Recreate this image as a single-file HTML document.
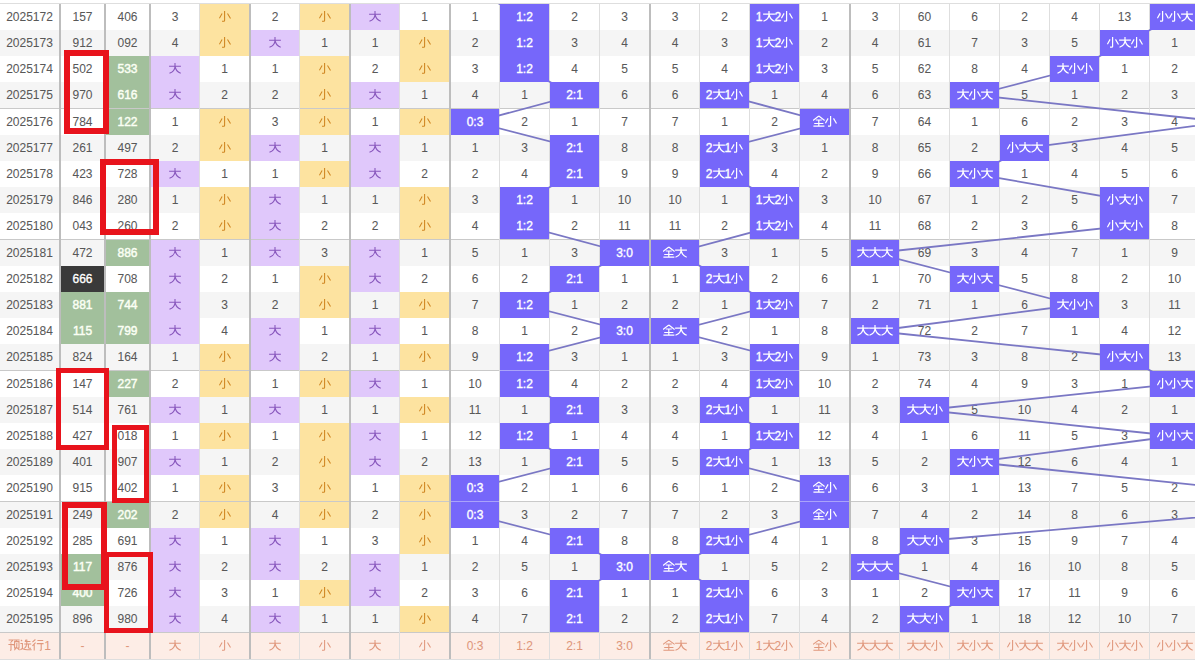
<!DOCTYPE html>
<html><head><meta charset="utf-8"><style>
html,body{margin:0;padding:0;background:#fff;}
body{width:1195px;height:661px;overflow:hidden;position:relative;font-family:"Liberation Sans",sans-serif;font-size:12px;color:#585858;}
.a{position:absolute;}
.c{position:absolute;display:flex;align-items:center;justify-content:center;height:26px;white-space:nowrap;}
.c b{font-weight:normal;display:block;line-height:12px;-webkit-text-stroke:0.05px currentColor;}
.g{width:12px;height:12px;display:block;margin-top:-2px;fill:none;stroke:currentColor;stroke-width:1.05;stroke-linecap:butt;stroke-linejoin:miter;}
.hi{background:#7667fa;color:#fff;}
.hi b,.dk b{-webkit-text-stroke:0.35px currentColor;}
.gr b{-webkit-text-stroke:0.45px currentColor;}
.hi .g{stroke-width:1.2;}
.y{background:#fde3a0;color:#cf8520;}
.p{background:#e0c8fb;color:#8756bc;}
.gr{background:#a2c09c;color:#fbfff4;}
.dk{background:#3a3a3a;color:#fff;}
.ft{color:#e0977c;}
.vd{position:absolute;width:2px;background:#bdbdbd;}
.vl{position:absolute;width:1px;background:#dedede;}
.rb{position:absolute;box-sizing:border-box;border:6px solid #e8131c;}
</style></head><body>

<div class="a" style="left:0;top:3px;width:1195px;height:1px;background:#dedede"></div>
<div class="a" style="left:0;top:30px;width:1195px;height:26px;background:#f5f5f5"></div>
<div class="a" style="left:0;top:82px;width:1195px;height:26px;background:#f5f5f5"></div>
<div class="a" style="left:0;top:135px;width:1195px;height:26px;background:#f5f5f5"></div>
<div class="a" style="left:0;top:187px;width:1195px;height:26px;background:#f5f5f5"></div>
<div class="a" style="left:0;top:240px;width:1195px;height:26px;background:#f5f5f5"></div>
<div class="a" style="left:0;top:292px;width:1195px;height:26px;background:#f5f5f5"></div>
<div class="a" style="left:0;top:344px;width:1195px;height:26px;background:#f5f5f5"></div>
<div class="a" style="left:0;top:397px;width:1195px;height:26px;background:#f5f5f5"></div>
<div class="a" style="left:0;top:449px;width:1195px;height:26px;background:#f5f5f5"></div>
<div class="a" style="left:0;top:502px;width:1195px;height:26px;background:#f5f5f5"></div>
<div class="a" style="left:0;top:554px;width:1195px;height:26px;background:#f5f5f5"></div>
<div class="a" style="left:0;top:606px;width:1195px;height:26px;background:#f5f5f5"></div>
<div class="a" style="left:0;top:108px;width:1195px;height:1px;background:#c9c9c9"></div>
<div class="a" style="left:0;top:239px;width:1195px;height:1px;background:#c9c9c9"></div>
<div class="a" style="left:0;top:370px;width:1195px;height:1px;background:#c9c9c9"></div>
<div class="a" style="left:0;top:501px;width:1195px;height:1px;background:#c9c9c9"></div>
<div class="a" style="left:0;top:632px;width:1195px;height:1px;background:#c9c9c9"></div>
<div class="a" style="left:0;top:633px;width:1195px;height:26px;background:#fdede6"></div>
<div class="a" style="left:0;top:659px;width:1195px;height:1px;background:#dedede"></div>
<div class="c " style="left:0px;top:4px;width:59px;"><b>2025172</b></div>
<div class="c " style="left:61px;top:4px;width:43px;"><b>157</b></div>
<div class="c " style="left:106px;top:4px;width:43px;"><b>406</b></div>
<div class="c " style="left:151px;top:4px;width:48px;"><b>3</b></div>
<div class="c y" style="left:200px;top:4px;width:49px;"><svg class="g" viewBox="0 0 12 12"><path d="M5.6 1V10.5Q5.6 11.2 4.8 11.2H3M3.1 3.4L0.4 8.3M8.5 3.4L11.5 8.5"/></svg></div>
<div class="c " style="left:251px;top:4px;width:48px;"><b>2</b></div>
<div class="c y" style="left:300px;top:4px;width:49px;"><svg class="g" viewBox="0 0 12 12"><path d="M5.6 1V10.5Q5.6 11.2 4.8 11.2H3M3.1 3.4L0.4 8.3M8.5 3.4L11.5 8.5"/></svg></div>
<div class="c p" style="left:351px;top:4px;width:48px;"><svg class="g" viewBox="0 0 12 12"><path d="M0.1 4.2H11.9M6 0.9V4.2C6 7.4 4 9.9 0.5 11.3M6.2 5C7 8.1 8.8 10.2 11.7 11.3"/></svg></div>
<div class="c " style="left:400px;top:4px;width:49px;"><b>1</b></div>
<div class="c " style="left:0px;top:30px;width:59px;"><b>2025173</b></div>
<div class="c " style="left:61px;top:30px;width:43px;"><b>912</b></div>
<div class="c " style="left:106px;top:30px;width:43px;"><b>092</b></div>
<div class="c " style="left:151px;top:30px;width:48px;"><b>4</b></div>
<div class="c y" style="left:200px;top:30px;width:49px;"><svg class="g" viewBox="0 0 12 12"><path d="M5.6 1V10.5Q5.6 11.2 4.8 11.2H3M3.1 3.4L0.4 8.3M8.5 3.4L11.5 8.5"/></svg></div>
<div class="c p" style="left:251px;top:30px;width:48px;"><svg class="g" viewBox="0 0 12 12"><path d="M0.1 4.2H11.9M6 0.9V4.2C6 7.4 4 9.9 0.5 11.3M6.2 5C7 8.1 8.8 10.2 11.7 11.3"/></svg></div>
<div class="c " style="left:300px;top:30px;width:49px;"><b>1</b></div>
<div class="c " style="left:351px;top:30px;width:48px;"><b>1</b></div>
<div class="c y" style="left:400px;top:30px;width:49px;"><svg class="g" viewBox="0 0 12 12"><path d="M5.6 1V10.5Q5.6 11.2 4.8 11.2H3M3.1 3.4L0.4 8.3M8.5 3.4L11.5 8.5"/></svg></div>
<div class="c " style="left:0px;top:56px;width:59px;"><b>2025174</b></div>
<div class="c " style="left:61px;top:56px;width:43px;"><b>502</b></div>
<div class="c gr" style="left:106px;top:56px;width:43px;"><b>533</b></div>
<div class="c p" style="left:151px;top:56px;width:48px;"><svg class="g" viewBox="0 0 12 12"><path d="M0.1 4.2H11.9M6 0.9V4.2C6 7.4 4 9.9 0.5 11.3M6.2 5C7 8.1 8.8 10.2 11.7 11.3"/></svg></div>
<div class="c " style="left:200px;top:56px;width:49px;"><b>1</b></div>
<div class="c " style="left:251px;top:56px;width:48px;"><b>1</b></div>
<div class="c y" style="left:300px;top:56px;width:49px;"><svg class="g" viewBox="0 0 12 12"><path d="M5.6 1V10.5Q5.6 11.2 4.8 11.2H3M3.1 3.4L0.4 8.3M8.5 3.4L11.5 8.5"/></svg></div>
<div class="c " style="left:351px;top:56px;width:48px;"><b>2</b></div>
<div class="c y" style="left:400px;top:56px;width:49px;"><svg class="g" viewBox="0 0 12 12"><path d="M5.6 1V10.5Q5.6 11.2 4.8 11.2H3M3.1 3.4L0.4 8.3M8.5 3.4L11.5 8.5"/></svg></div>
<div class="c " style="left:0px;top:82px;width:59px;"><b>2025175</b></div>
<div class="c " style="left:61px;top:82px;width:43px;"><b>970</b></div>
<div class="c gr" style="left:106px;top:82px;width:43px;"><b>616</b></div>
<div class="c p" style="left:151px;top:82px;width:48px;"><svg class="g" viewBox="0 0 12 12"><path d="M0.1 4.2H11.9M6 0.9V4.2C6 7.4 4 9.9 0.5 11.3M6.2 5C7 8.1 8.8 10.2 11.7 11.3"/></svg></div>
<div class="c " style="left:200px;top:82px;width:49px;"><b>2</b></div>
<div class="c " style="left:251px;top:82px;width:48px;"><b>2</b></div>
<div class="c y" style="left:300px;top:82px;width:49px;"><svg class="g" viewBox="0 0 12 12"><path d="M5.6 1V10.5Q5.6 11.2 4.8 11.2H3M3.1 3.4L0.4 8.3M8.5 3.4L11.5 8.5"/></svg></div>
<div class="c p" style="left:351px;top:82px;width:48px;"><svg class="g" viewBox="0 0 12 12"><path d="M0.1 4.2H11.9M6 0.9V4.2C6 7.4 4 9.9 0.5 11.3M6.2 5C7 8.1 8.8 10.2 11.7 11.3"/></svg></div>
<div class="c " style="left:400px;top:82px;width:49px;"><b>1</b></div>
<div class="c " style="left:0px;top:109px;width:59px;"><b>2025176</b></div>
<div class="c " style="left:61px;top:109px;width:43px;"><b>784</b></div>
<div class="c gr" style="left:106px;top:109px;width:43px;"><b>122</b></div>
<div class="c " style="left:151px;top:109px;width:48px;"><b>1</b></div>
<div class="c y" style="left:200px;top:109px;width:49px;"><svg class="g" viewBox="0 0 12 12"><path d="M5.6 1V10.5Q5.6 11.2 4.8 11.2H3M3.1 3.4L0.4 8.3M8.5 3.4L11.5 8.5"/></svg></div>
<div class="c " style="left:251px;top:109px;width:48px;"><b>3</b></div>
<div class="c y" style="left:300px;top:109px;width:49px;"><svg class="g" viewBox="0 0 12 12"><path d="M5.6 1V10.5Q5.6 11.2 4.8 11.2H3M3.1 3.4L0.4 8.3M8.5 3.4L11.5 8.5"/></svg></div>
<div class="c " style="left:351px;top:109px;width:48px;"><b>1</b></div>
<div class="c y" style="left:400px;top:109px;width:49px;"><svg class="g" viewBox="0 0 12 12"><path d="M5.6 1V10.5Q5.6 11.2 4.8 11.2H3M3.1 3.4L0.4 8.3M8.5 3.4L11.5 8.5"/></svg></div>
<div class="c " style="left:0px;top:135px;width:59px;"><b>2025177</b></div>
<div class="c " style="left:61px;top:135px;width:43px;"><b>261</b></div>
<div class="c " style="left:106px;top:135px;width:43px;"><b>497</b></div>
<div class="c " style="left:151px;top:135px;width:48px;"><b>2</b></div>
<div class="c y" style="left:200px;top:135px;width:49px;"><svg class="g" viewBox="0 0 12 12"><path d="M5.6 1V10.5Q5.6 11.2 4.8 11.2H3M3.1 3.4L0.4 8.3M8.5 3.4L11.5 8.5"/></svg></div>
<div class="c p" style="left:251px;top:135px;width:48px;"><svg class="g" viewBox="0 0 12 12"><path d="M0.1 4.2H11.9M6 0.9V4.2C6 7.4 4 9.9 0.5 11.3M6.2 5C7 8.1 8.8 10.2 11.7 11.3"/></svg></div>
<div class="c " style="left:300px;top:135px;width:49px;"><b>1</b></div>
<div class="c p" style="left:351px;top:135px;width:48px;"><svg class="g" viewBox="0 0 12 12"><path d="M0.1 4.2H11.9M6 0.9V4.2C6 7.4 4 9.9 0.5 11.3M6.2 5C7 8.1 8.8 10.2 11.7 11.3"/></svg></div>
<div class="c " style="left:400px;top:135px;width:49px;"><b>1</b></div>
<div class="c " style="left:0px;top:161px;width:59px;"><b>2025178</b></div>
<div class="c " style="left:61px;top:161px;width:43px;"><b>423</b></div>
<div class="c " style="left:106px;top:161px;width:43px;"><b>728</b></div>
<div class="c p" style="left:151px;top:161px;width:48px;"><svg class="g" viewBox="0 0 12 12"><path d="M0.1 4.2H11.9M6 0.9V4.2C6 7.4 4 9.9 0.5 11.3M6.2 5C7 8.1 8.8 10.2 11.7 11.3"/></svg></div>
<div class="c " style="left:200px;top:161px;width:49px;"><b>1</b></div>
<div class="c " style="left:251px;top:161px;width:48px;"><b>1</b></div>
<div class="c y" style="left:300px;top:161px;width:49px;"><svg class="g" viewBox="0 0 12 12"><path d="M5.6 1V10.5Q5.6 11.2 4.8 11.2H3M3.1 3.4L0.4 8.3M8.5 3.4L11.5 8.5"/></svg></div>
<div class="c p" style="left:351px;top:161px;width:48px;"><svg class="g" viewBox="0 0 12 12"><path d="M0.1 4.2H11.9M6 0.9V4.2C6 7.4 4 9.9 0.5 11.3M6.2 5C7 8.1 8.8 10.2 11.7 11.3"/></svg></div>
<div class="c " style="left:400px;top:161px;width:49px;"><b>2</b></div>
<div class="c " style="left:0px;top:187px;width:59px;"><b>2025179</b></div>
<div class="c " style="left:61px;top:187px;width:43px;"><b>846</b></div>
<div class="c " style="left:106px;top:187px;width:43px;"><b>280</b></div>
<div class="c " style="left:151px;top:187px;width:48px;"><b>1</b></div>
<div class="c y" style="left:200px;top:187px;width:49px;"><svg class="g" viewBox="0 0 12 12"><path d="M5.6 1V10.5Q5.6 11.2 4.8 11.2H3M3.1 3.4L0.4 8.3M8.5 3.4L11.5 8.5"/></svg></div>
<div class="c p" style="left:251px;top:187px;width:48px;"><svg class="g" viewBox="0 0 12 12"><path d="M0.1 4.2H11.9M6 0.9V4.2C6 7.4 4 9.9 0.5 11.3M6.2 5C7 8.1 8.8 10.2 11.7 11.3"/></svg></div>
<div class="c " style="left:300px;top:187px;width:49px;"><b>1</b></div>
<div class="c " style="left:351px;top:187px;width:48px;"><b>1</b></div>
<div class="c y" style="left:400px;top:187px;width:49px;"><svg class="g" viewBox="0 0 12 12"><path d="M5.6 1V10.5Q5.6 11.2 4.8 11.2H3M3.1 3.4L0.4 8.3M8.5 3.4L11.5 8.5"/></svg></div>
<div class="c " style="left:0px;top:213px;width:59px;"><b>2025180</b></div>
<div class="c " style="left:61px;top:213px;width:43px;"><b>043</b></div>
<div class="c " style="left:106px;top:213px;width:43px;"><b>260</b></div>
<div class="c " style="left:151px;top:213px;width:48px;"><b>2</b></div>
<div class="c y" style="left:200px;top:213px;width:49px;"><svg class="g" viewBox="0 0 12 12"><path d="M5.6 1V10.5Q5.6 11.2 4.8 11.2H3M3.1 3.4L0.4 8.3M8.5 3.4L11.5 8.5"/></svg></div>
<div class="c p" style="left:251px;top:213px;width:48px;"><svg class="g" viewBox="0 0 12 12"><path d="M0.1 4.2H11.9M6 0.9V4.2C6 7.4 4 9.9 0.5 11.3M6.2 5C7 8.1 8.8 10.2 11.7 11.3"/></svg></div>
<div class="c " style="left:300px;top:213px;width:49px;"><b>2</b></div>
<div class="c " style="left:351px;top:213px;width:48px;"><b>2</b></div>
<div class="c y" style="left:400px;top:213px;width:49px;"><svg class="g" viewBox="0 0 12 12"><path d="M5.6 1V10.5Q5.6 11.2 4.8 11.2H3M3.1 3.4L0.4 8.3M8.5 3.4L11.5 8.5"/></svg></div>
<div class="c " style="left:0px;top:240px;width:59px;"><b>2025181</b></div>
<div class="c " style="left:61px;top:240px;width:43px;"><b>472</b></div>
<div class="c gr" style="left:106px;top:240px;width:43px;"><b>886</b></div>
<div class="c p" style="left:151px;top:240px;width:48px;"><svg class="g" viewBox="0 0 12 12"><path d="M0.1 4.2H11.9M6 0.9V4.2C6 7.4 4 9.9 0.5 11.3M6.2 5C7 8.1 8.8 10.2 11.7 11.3"/></svg></div>
<div class="c " style="left:200px;top:240px;width:49px;"><b>1</b></div>
<div class="c p" style="left:251px;top:240px;width:48px;"><svg class="g" viewBox="0 0 12 12"><path d="M0.1 4.2H11.9M6 0.9V4.2C6 7.4 4 9.9 0.5 11.3M6.2 5C7 8.1 8.8 10.2 11.7 11.3"/></svg></div>
<div class="c " style="left:300px;top:240px;width:49px;"><b>3</b></div>
<div class="c p" style="left:351px;top:240px;width:48px;"><svg class="g" viewBox="0 0 12 12"><path d="M0.1 4.2H11.9M6 0.9V4.2C6 7.4 4 9.9 0.5 11.3M6.2 5C7 8.1 8.8 10.2 11.7 11.3"/></svg></div>
<div class="c " style="left:400px;top:240px;width:49px;"><b>1</b></div>
<div class="c " style="left:0px;top:266px;width:59px;"><b>2025182</b></div>
<div class="c dk" style="left:61px;top:266px;width:43px;"><b>666</b></div>
<div class="c " style="left:106px;top:266px;width:43px;"><b>708</b></div>
<div class="c p" style="left:151px;top:266px;width:48px;"><svg class="g" viewBox="0 0 12 12"><path d="M0.1 4.2H11.9M6 0.9V4.2C6 7.4 4 9.9 0.5 11.3M6.2 5C7 8.1 8.8 10.2 11.7 11.3"/></svg></div>
<div class="c " style="left:200px;top:266px;width:49px;"><b>2</b></div>
<div class="c " style="left:251px;top:266px;width:48px;"><b>1</b></div>
<div class="c y" style="left:300px;top:266px;width:49px;"><svg class="g" viewBox="0 0 12 12"><path d="M5.6 1V10.5Q5.6 11.2 4.8 11.2H3M3.1 3.4L0.4 8.3M8.5 3.4L11.5 8.5"/></svg></div>
<div class="c p" style="left:351px;top:266px;width:48px;"><svg class="g" viewBox="0 0 12 12"><path d="M0.1 4.2H11.9M6 0.9V4.2C6 7.4 4 9.9 0.5 11.3M6.2 5C7 8.1 8.8 10.2 11.7 11.3"/></svg></div>
<div class="c " style="left:400px;top:266px;width:49px;"><b>2</b></div>
<div class="c " style="left:0px;top:292px;width:59px;"><b>2025183</b></div>
<div class="c gr" style="left:61px;top:292px;width:43px;"><b>881</b></div>
<div class="c gr" style="left:106px;top:292px;width:43px;"><b>744</b></div>
<div class="c p" style="left:151px;top:292px;width:48px;"><svg class="g" viewBox="0 0 12 12"><path d="M0.1 4.2H11.9M6 0.9V4.2C6 7.4 4 9.9 0.5 11.3M6.2 5C7 8.1 8.8 10.2 11.7 11.3"/></svg></div>
<div class="c " style="left:200px;top:292px;width:49px;"><b>3</b></div>
<div class="c " style="left:251px;top:292px;width:48px;"><b>2</b></div>
<div class="c y" style="left:300px;top:292px;width:49px;"><svg class="g" viewBox="0 0 12 12"><path d="M5.6 1V10.5Q5.6 11.2 4.8 11.2H3M3.1 3.4L0.4 8.3M8.5 3.4L11.5 8.5"/></svg></div>
<div class="c " style="left:351px;top:292px;width:48px;"><b>1</b></div>
<div class="c y" style="left:400px;top:292px;width:49px;"><svg class="g" viewBox="0 0 12 12"><path d="M5.6 1V10.5Q5.6 11.2 4.8 11.2H3M3.1 3.4L0.4 8.3M8.5 3.4L11.5 8.5"/></svg></div>
<div class="c " style="left:0px;top:318px;width:59px;"><b>2025184</b></div>
<div class="c gr" style="left:61px;top:318px;width:43px;"><b>115</b></div>
<div class="c gr" style="left:106px;top:318px;width:43px;"><b>799</b></div>
<div class="c p" style="left:151px;top:318px;width:48px;"><svg class="g" viewBox="0 0 12 12"><path d="M0.1 4.2H11.9M6 0.9V4.2C6 7.4 4 9.9 0.5 11.3M6.2 5C7 8.1 8.8 10.2 11.7 11.3"/></svg></div>
<div class="c " style="left:200px;top:318px;width:49px;"><b>4</b></div>
<div class="c p" style="left:251px;top:318px;width:48px;"><svg class="g" viewBox="0 0 12 12"><path d="M0.1 4.2H11.9M6 0.9V4.2C6 7.4 4 9.9 0.5 11.3M6.2 5C7 8.1 8.8 10.2 11.7 11.3"/></svg></div>
<div class="c " style="left:300px;top:318px;width:49px;"><b>1</b></div>
<div class="c p" style="left:351px;top:318px;width:48px;"><svg class="g" viewBox="0 0 12 12"><path d="M0.1 4.2H11.9M6 0.9V4.2C6 7.4 4 9.9 0.5 11.3M6.2 5C7 8.1 8.8 10.2 11.7 11.3"/></svg></div>
<div class="c " style="left:400px;top:318px;width:49px;"><b>1</b></div>
<div class="c " style="left:0px;top:344px;width:59px;"><b>2025185</b></div>
<div class="c " style="left:61px;top:344px;width:43px;"><b>824</b></div>
<div class="c " style="left:106px;top:344px;width:43px;"><b>164</b></div>
<div class="c " style="left:151px;top:344px;width:48px;"><b>1</b></div>
<div class="c y" style="left:200px;top:344px;width:49px;"><svg class="g" viewBox="0 0 12 12"><path d="M5.6 1V10.5Q5.6 11.2 4.8 11.2H3M3.1 3.4L0.4 8.3M8.5 3.4L11.5 8.5"/></svg></div>
<div class="c p" style="left:251px;top:344px;width:48px;"><svg class="g" viewBox="0 0 12 12"><path d="M0.1 4.2H11.9M6 0.9V4.2C6 7.4 4 9.9 0.5 11.3M6.2 5C7 8.1 8.8 10.2 11.7 11.3"/></svg></div>
<div class="c " style="left:300px;top:344px;width:49px;"><b>2</b></div>
<div class="c " style="left:351px;top:344px;width:48px;"><b>1</b></div>
<div class="c y" style="left:400px;top:344px;width:49px;"><svg class="g" viewBox="0 0 12 12"><path d="M5.6 1V10.5Q5.6 11.2 4.8 11.2H3M3.1 3.4L0.4 8.3M8.5 3.4L11.5 8.5"/></svg></div>
<div class="c " style="left:0px;top:371px;width:59px;"><b>2025186</b></div>
<div class="c " style="left:61px;top:371px;width:43px;"><b>147</b></div>
<div class="c gr" style="left:106px;top:371px;width:43px;"><b>227</b></div>
<div class="c " style="left:151px;top:371px;width:48px;"><b>2</b></div>
<div class="c y" style="left:200px;top:371px;width:49px;"><svg class="g" viewBox="0 0 12 12"><path d="M5.6 1V10.5Q5.6 11.2 4.8 11.2H3M3.1 3.4L0.4 8.3M8.5 3.4L11.5 8.5"/></svg></div>
<div class="c " style="left:251px;top:371px;width:48px;"><b>1</b></div>
<div class="c y" style="left:300px;top:371px;width:49px;"><svg class="g" viewBox="0 0 12 12"><path d="M5.6 1V10.5Q5.6 11.2 4.8 11.2H3M3.1 3.4L0.4 8.3M8.5 3.4L11.5 8.5"/></svg></div>
<div class="c p" style="left:351px;top:371px;width:48px;"><svg class="g" viewBox="0 0 12 12"><path d="M0.1 4.2H11.9M6 0.9V4.2C6 7.4 4 9.9 0.5 11.3M6.2 5C7 8.1 8.8 10.2 11.7 11.3"/></svg></div>
<div class="c " style="left:400px;top:371px;width:49px;"><b>1</b></div>
<div class="c " style="left:0px;top:397px;width:59px;"><b>2025187</b></div>
<div class="c " style="left:61px;top:397px;width:43px;"><b>514</b></div>
<div class="c " style="left:106px;top:397px;width:43px;"><b>761</b></div>
<div class="c p" style="left:151px;top:397px;width:48px;"><svg class="g" viewBox="0 0 12 12"><path d="M0.1 4.2H11.9M6 0.9V4.2C6 7.4 4 9.9 0.5 11.3M6.2 5C7 8.1 8.8 10.2 11.7 11.3"/></svg></div>
<div class="c " style="left:200px;top:397px;width:49px;"><b>1</b></div>
<div class="c p" style="left:251px;top:397px;width:48px;"><svg class="g" viewBox="0 0 12 12"><path d="M0.1 4.2H11.9M6 0.9V4.2C6 7.4 4 9.9 0.5 11.3M6.2 5C7 8.1 8.8 10.2 11.7 11.3"/></svg></div>
<div class="c " style="left:300px;top:397px;width:49px;"><b>1</b></div>
<div class="c " style="left:351px;top:397px;width:48px;"><b>1</b></div>
<div class="c y" style="left:400px;top:397px;width:49px;"><svg class="g" viewBox="0 0 12 12"><path d="M5.6 1V10.5Q5.6 11.2 4.8 11.2H3M3.1 3.4L0.4 8.3M8.5 3.4L11.5 8.5"/></svg></div>
<div class="c " style="left:0px;top:423px;width:59px;"><b>2025188</b></div>
<div class="c " style="left:61px;top:423px;width:43px;"><b>427</b></div>
<div class="c " style="left:106px;top:423px;width:43px;"><b>018</b></div>
<div class="c " style="left:151px;top:423px;width:48px;"><b>1</b></div>
<div class="c y" style="left:200px;top:423px;width:49px;"><svg class="g" viewBox="0 0 12 12"><path d="M5.6 1V10.5Q5.6 11.2 4.8 11.2H3M3.1 3.4L0.4 8.3M8.5 3.4L11.5 8.5"/></svg></div>
<div class="c " style="left:251px;top:423px;width:48px;"><b>1</b></div>
<div class="c y" style="left:300px;top:423px;width:49px;"><svg class="g" viewBox="0 0 12 12"><path d="M5.6 1V10.5Q5.6 11.2 4.8 11.2H3M3.1 3.4L0.4 8.3M8.5 3.4L11.5 8.5"/></svg></div>
<div class="c p" style="left:351px;top:423px;width:48px;"><svg class="g" viewBox="0 0 12 12"><path d="M0.1 4.2H11.9M6 0.9V4.2C6 7.4 4 9.9 0.5 11.3M6.2 5C7 8.1 8.8 10.2 11.7 11.3"/></svg></div>
<div class="c " style="left:400px;top:423px;width:49px;"><b>1</b></div>
<div class="c " style="left:0px;top:449px;width:59px;"><b>2025189</b></div>
<div class="c " style="left:61px;top:449px;width:43px;"><b>401</b></div>
<div class="c " style="left:106px;top:449px;width:43px;"><b>907</b></div>
<div class="c p" style="left:151px;top:449px;width:48px;"><svg class="g" viewBox="0 0 12 12"><path d="M0.1 4.2H11.9M6 0.9V4.2C6 7.4 4 9.9 0.5 11.3M6.2 5C7 8.1 8.8 10.2 11.7 11.3"/></svg></div>
<div class="c " style="left:200px;top:449px;width:49px;"><b>1</b></div>
<div class="c " style="left:251px;top:449px;width:48px;"><b>2</b></div>
<div class="c y" style="left:300px;top:449px;width:49px;"><svg class="g" viewBox="0 0 12 12"><path d="M5.6 1V10.5Q5.6 11.2 4.8 11.2H3M3.1 3.4L0.4 8.3M8.5 3.4L11.5 8.5"/></svg></div>
<div class="c p" style="left:351px;top:449px;width:48px;"><svg class="g" viewBox="0 0 12 12"><path d="M0.1 4.2H11.9M6 0.9V4.2C6 7.4 4 9.9 0.5 11.3M6.2 5C7 8.1 8.8 10.2 11.7 11.3"/></svg></div>
<div class="c " style="left:400px;top:449px;width:49px;"><b>2</b></div>
<div class="c " style="left:0px;top:475px;width:59px;"><b>2025190</b></div>
<div class="c " style="left:61px;top:475px;width:43px;"><b>915</b></div>
<div class="c " style="left:106px;top:475px;width:43px;"><b>402</b></div>
<div class="c " style="left:151px;top:475px;width:48px;"><b>1</b></div>
<div class="c y" style="left:200px;top:475px;width:49px;"><svg class="g" viewBox="0 0 12 12"><path d="M5.6 1V10.5Q5.6 11.2 4.8 11.2H3M3.1 3.4L0.4 8.3M8.5 3.4L11.5 8.5"/></svg></div>
<div class="c " style="left:251px;top:475px;width:48px;"><b>3</b></div>
<div class="c y" style="left:300px;top:475px;width:49px;"><svg class="g" viewBox="0 0 12 12"><path d="M5.6 1V10.5Q5.6 11.2 4.8 11.2H3M3.1 3.4L0.4 8.3M8.5 3.4L11.5 8.5"/></svg></div>
<div class="c " style="left:351px;top:475px;width:48px;"><b>1</b></div>
<div class="c y" style="left:400px;top:475px;width:49px;"><svg class="g" viewBox="0 0 12 12"><path d="M5.6 1V10.5Q5.6 11.2 4.8 11.2H3M3.1 3.4L0.4 8.3M8.5 3.4L11.5 8.5"/></svg></div>
<div class="c " style="left:0px;top:502px;width:59px;"><b>2025191</b></div>
<div class="c " style="left:61px;top:502px;width:43px;"><b>249</b></div>
<div class="c gr" style="left:106px;top:502px;width:43px;"><b>202</b></div>
<div class="c " style="left:151px;top:502px;width:48px;"><b>2</b></div>
<div class="c y" style="left:200px;top:502px;width:49px;"><svg class="g" viewBox="0 0 12 12"><path d="M5.6 1V10.5Q5.6 11.2 4.8 11.2H3M3.1 3.4L0.4 8.3M8.5 3.4L11.5 8.5"/></svg></div>
<div class="c " style="left:251px;top:502px;width:48px;"><b>4</b></div>
<div class="c y" style="left:300px;top:502px;width:49px;"><svg class="g" viewBox="0 0 12 12"><path d="M5.6 1V10.5Q5.6 11.2 4.8 11.2H3M3.1 3.4L0.4 8.3M8.5 3.4L11.5 8.5"/></svg></div>
<div class="c " style="left:351px;top:502px;width:48px;"><b>2</b></div>
<div class="c y" style="left:400px;top:502px;width:49px;"><svg class="g" viewBox="0 0 12 12"><path d="M5.6 1V10.5Q5.6 11.2 4.8 11.2H3M3.1 3.4L0.4 8.3M8.5 3.4L11.5 8.5"/></svg></div>
<div class="c " style="left:0px;top:528px;width:59px;"><b>2025192</b></div>
<div class="c " style="left:61px;top:528px;width:43px;"><b>285</b></div>
<div class="c " style="left:106px;top:528px;width:43px;"><b>691</b></div>
<div class="c p" style="left:151px;top:528px;width:48px;"><svg class="g" viewBox="0 0 12 12"><path d="M0.1 4.2H11.9M6 0.9V4.2C6 7.4 4 9.9 0.5 11.3M6.2 5C7 8.1 8.8 10.2 11.7 11.3"/></svg></div>
<div class="c " style="left:200px;top:528px;width:49px;"><b>1</b></div>
<div class="c p" style="left:251px;top:528px;width:48px;"><svg class="g" viewBox="0 0 12 12"><path d="M0.1 4.2H11.9M6 0.9V4.2C6 7.4 4 9.9 0.5 11.3M6.2 5C7 8.1 8.8 10.2 11.7 11.3"/></svg></div>
<div class="c " style="left:300px;top:528px;width:49px;"><b>1</b></div>
<div class="c " style="left:351px;top:528px;width:48px;"><b>3</b></div>
<div class="c y" style="left:400px;top:528px;width:49px;"><svg class="g" viewBox="0 0 12 12"><path d="M5.6 1V10.5Q5.6 11.2 4.8 11.2H3M3.1 3.4L0.4 8.3M8.5 3.4L11.5 8.5"/></svg></div>
<div class="c " style="left:0px;top:554px;width:59px;"><b>2025193</b></div>
<div class="c gr" style="left:61px;top:554px;width:43px;"><b>117</b></div>
<div class="c " style="left:106px;top:554px;width:43px;"><b>876</b></div>
<div class="c p" style="left:151px;top:554px;width:48px;"><svg class="g" viewBox="0 0 12 12"><path d="M0.1 4.2H11.9M6 0.9V4.2C6 7.4 4 9.9 0.5 11.3M6.2 5C7 8.1 8.8 10.2 11.7 11.3"/></svg></div>
<div class="c " style="left:200px;top:554px;width:49px;"><b>2</b></div>
<div class="c p" style="left:251px;top:554px;width:48px;"><svg class="g" viewBox="0 0 12 12"><path d="M0.1 4.2H11.9M6 0.9V4.2C6 7.4 4 9.9 0.5 11.3M6.2 5C7 8.1 8.8 10.2 11.7 11.3"/></svg></div>
<div class="c " style="left:300px;top:554px;width:49px;"><b>2</b></div>
<div class="c p" style="left:351px;top:554px;width:48px;"><svg class="g" viewBox="0 0 12 12"><path d="M0.1 4.2H11.9M6 0.9V4.2C6 7.4 4 9.9 0.5 11.3M6.2 5C7 8.1 8.8 10.2 11.7 11.3"/></svg></div>
<div class="c " style="left:400px;top:554px;width:49px;"><b>1</b></div>
<div class="c " style="left:0px;top:580px;width:59px;"><b>2025194</b></div>
<div class="c gr" style="left:61px;top:580px;width:43px;"><b>400</b></div>
<div class="c " style="left:106px;top:580px;width:43px;"><b>726</b></div>
<div class="c p" style="left:151px;top:580px;width:48px;"><svg class="g" viewBox="0 0 12 12"><path d="M0.1 4.2H11.9M6 0.9V4.2C6 7.4 4 9.9 0.5 11.3M6.2 5C7 8.1 8.8 10.2 11.7 11.3"/></svg></div>
<div class="c " style="left:200px;top:580px;width:49px;"><b>3</b></div>
<div class="c " style="left:251px;top:580px;width:48px;"><b>1</b></div>
<div class="c y" style="left:300px;top:580px;width:49px;"><svg class="g" viewBox="0 0 12 12"><path d="M5.6 1V10.5Q5.6 11.2 4.8 11.2H3M3.1 3.4L0.4 8.3M8.5 3.4L11.5 8.5"/></svg></div>
<div class="c p" style="left:351px;top:580px;width:48px;"><svg class="g" viewBox="0 0 12 12"><path d="M0.1 4.2H11.9M6 0.9V4.2C6 7.4 4 9.9 0.5 11.3M6.2 5C7 8.1 8.8 10.2 11.7 11.3"/></svg></div>
<div class="c " style="left:400px;top:580px;width:49px;"><b>2</b></div>
<div class="c " style="left:0px;top:606px;width:59px;"><b>2025195</b></div>
<div class="c " style="left:61px;top:606px;width:43px;"><b>896</b></div>
<div class="c " style="left:106px;top:606px;width:43px;"><b>980</b></div>
<div class="c p" style="left:151px;top:606px;width:48px;"><svg class="g" viewBox="0 0 12 12"><path d="M0.1 4.2H11.9M6 0.9V4.2C6 7.4 4 9.9 0.5 11.3M6.2 5C7 8.1 8.8 10.2 11.7 11.3"/></svg></div>
<div class="c " style="left:200px;top:606px;width:49px;"><b>4</b></div>
<div class="c p" style="left:251px;top:606px;width:48px;"><svg class="g" viewBox="0 0 12 12"><path d="M0.1 4.2H11.9M6 0.9V4.2C6 7.4 4 9.9 0.5 11.3M6.2 5C7 8.1 8.8 10.2 11.7 11.3"/></svg></div>
<div class="c " style="left:300px;top:606px;width:49px;"><b>1</b></div>
<div class="c " style="left:351px;top:606px;width:48px;"><b>1</b></div>
<div class="c y" style="left:400px;top:606px;width:49px;"><svg class="g" viewBox="0 0 12 12"><path d="M5.6 1V10.5Q5.6 11.2 4.8 11.2H3M3.1 3.4L0.4 8.3M8.5 3.4L11.5 8.5"/></svg></div>
<div class="c " style="left:451px;top:4px;width:48px;"><b>1</b></div>
<div class="c " style="left:550px;top:4px;width:49px;"><b>2</b></div>
<div class="c " style="left:600px;top:4px;width:49px;"><b>3</b></div>
<div class="c " style="left:651px;top:4px;width:48px;"><b>3</b></div>
<div class="c " style="left:700px;top:4px;width:49px;"><b>2</b></div>
<div class="c " style="left:800px;top:4px;width:49px;"><b>1</b></div>
<div class="c " style="left:851px;top:4px;width:48px;"><b>3</b></div>
<div class="c " style="left:900px;top:4px;width:49px;"><b>60</b></div>
<div class="c " style="left:950px;top:4px;width:49px;"><b>6</b></div>
<div class="c " style="left:1000px;top:4px;width:49px;"><b>2</b></div>
<div class="c " style="left:1050px;top:4px;width:49px;"><b>4</b></div>
<div class="c " style="left:1100px;top:4px;width:49px;"><b>13</b></div>
<div class="c " style="left:451px;top:30px;width:48px;"><b>2</b></div>
<div class="c " style="left:550px;top:30px;width:49px;"><b>3</b></div>
<div class="c " style="left:600px;top:30px;width:49px;"><b>4</b></div>
<div class="c " style="left:651px;top:30px;width:48px;"><b>4</b></div>
<div class="c " style="left:700px;top:30px;width:49px;"><b>3</b></div>
<div class="c " style="left:800px;top:30px;width:49px;"><b>2</b></div>
<div class="c " style="left:851px;top:30px;width:48px;"><b>4</b></div>
<div class="c " style="left:900px;top:30px;width:49px;"><b>61</b></div>
<div class="c " style="left:950px;top:30px;width:49px;"><b>7</b></div>
<div class="c " style="left:1000px;top:30px;width:49px;"><b>3</b></div>
<div class="c " style="left:1050px;top:30px;width:49px;"><b>5</b></div>
<div class="c " style="left:1150px;top:30px;width:49px;"><b>1</b></div>
<div class="c " style="left:451px;top:56px;width:48px;"><b>3</b></div>
<div class="c " style="left:550px;top:56px;width:49px;"><b>4</b></div>
<div class="c " style="left:600px;top:56px;width:49px;"><b>5</b></div>
<div class="c " style="left:651px;top:56px;width:48px;"><b>5</b></div>
<div class="c " style="left:700px;top:56px;width:49px;"><b>4</b></div>
<div class="c " style="left:800px;top:56px;width:49px;"><b>3</b></div>
<div class="c " style="left:851px;top:56px;width:48px;"><b>5</b></div>
<div class="c " style="left:900px;top:56px;width:49px;"><b>62</b></div>
<div class="c " style="left:950px;top:56px;width:49px;"><b>8</b></div>
<div class="c " style="left:1000px;top:56px;width:49px;"><b>4</b></div>
<div class="c " style="left:1100px;top:56px;width:49px;"><b>1</b></div>
<div class="c " style="left:1150px;top:56px;width:49px;"><b>2</b></div>
<div class="c " style="left:451px;top:82px;width:48px;"><b>4</b></div>
<div class="c " style="left:500px;top:82px;width:49px;"><b>1</b></div>
<div class="c " style="left:600px;top:82px;width:49px;"><b>6</b></div>
<div class="c " style="left:651px;top:82px;width:48px;"><b>6</b></div>
<div class="c " style="left:750px;top:82px;width:49px;"><b>1</b></div>
<div class="c " style="left:800px;top:82px;width:49px;"><b>4</b></div>
<div class="c " style="left:851px;top:82px;width:48px;"><b>6</b></div>
<div class="c " style="left:900px;top:82px;width:49px;"><b>63</b></div>
<div class="c " style="left:1000px;top:82px;width:49px;"><b>5</b></div>
<div class="c " style="left:1050px;top:82px;width:49px;"><b>1</b></div>
<div class="c " style="left:1100px;top:82px;width:49px;"><b>2</b></div>
<div class="c " style="left:1150px;top:82px;width:49px;"><b>3</b></div>
<div class="c " style="left:500px;top:109px;width:49px;"><b>2</b></div>
<div class="c " style="left:550px;top:109px;width:49px;"><b>1</b></div>
<div class="c " style="left:600px;top:109px;width:49px;"><b>7</b></div>
<div class="c " style="left:651px;top:109px;width:48px;"><b>7</b></div>
<div class="c " style="left:700px;top:109px;width:49px;"><b>1</b></div>
<div class="c " style="left:750px;top:109px;width:49px;"><b>2</b></div>
<div class="c " style="left:851px;top:109px;width:48px;"><b>7</b></div>
<div class="c " style="left:900px;top:109px;width:49px;"><b>64</b></div>
<div class="c " style="left:950px;top:109px;width:49px;"><b>1</b></div>
<div class="c " style="left:1000px;top:109px;width:49px;"><b>6</b></div>
<div class="c " style="left:1050px;top:109px;width:49px;"><b>2</b></div>
<div class="c " style="left:1100px;top:109px;width:49px;"><b>3</b></div>
<div class="c " style="left:1150px;top:109px;width:49px;"><b>4</b></div>
<div class="c " style="left:451px;top:135px;width:48px;"><b>1</b></div>
<div class="c " style="left:500px;top:135px;width:49px;"><b>3</b></div>
<div class="c " style="left:600px;top:135px;width:49px;"><b>8</b></div>
<div class="c " style="left:651px;top:135px;width:48px;"><b>8</b></div>
<div class="c " style="left:750px;top:135px;width:49px;"><b>3</b></div>
<div class="c " style="left:800px;top:135px;width:49px;"><b>1</b></div>
<div class="c " style="left:851px;top:135px;width:48px;"><b>8</b></div>
<div class="c " style="left:900px;top:135px;width:49px;"><b>65</b></div>
<div class="c " style="left:950px;top:135px;width:49px;"><b>2</b></div>
<div class="c " style="left:1050px;top:135px;width:49px;"><b>3</b></div>
<div class="c " style="left:1100px;top:135px;width:49px;"><b>4</b></div>
<div class="c " style="left:1150px;top:135px;width:49px;"><b>5</b></div>
<div class="c " style="left:451px;top:161px;width:48px;"><b>2</b></div>
<div class="c " style="left:500px;top:161px;width:49px;"><b>4</b></div>
<div class="c " style="left:600px;top:161px;width:49px;"><b>9</b></div>
<div class="c " style="left:651px;top:161px;width:48px;"><b>9</b></div>
<div class="c " style="left:750px;top:161px;width:49px;"><b>4</b></div>
<div class="c " style="left:800px;top:161px;width:49px;"><b>2</b></div>
<div class="c " style="left:851px;top:161px;width:48px;"><b>9</b></div>
<div class="c " style="left:900px;top:161px;width:49px;"><b>66</b></div>
<div class="c " style="left:1000px;top:161px;width:49px;"><b>1</b></div>
<div class="c " style="left:1050px;top:161px;width:49px;"><b>4</b></div>
<div class="c " style="left:1100px;top:161px;width:49px;"><b>5</b></div>
<div class="c " style="left:1150px;top:161px;width:49px;"><b>6</b></div>
<div class="c " style="left:451px;top:187px;width:48px;"><b>3</b></div>
<div class="c " style="left:550px;top:187px;width:49px;"><b>1</b></div>
<div class="c " style="left:600px;top:187px;width:49px;"><b>10</b></div>
<div class="c " style="left:651px;top:187px;width:48px;"><b>10</b></div>
<div class="c " style="left:700px;top:187px;width:49px;"><b>1</b></div>
<div class="c " style="left:800px;top:187px;width:49px;"><b>3</b></div>
<div class="c " style="left:851px;top:187px;width:48px;"><b>10</b></div>
<div class="c " style="left:900px;top:187px;width:49px;"><b>67</b></div>
<div class="c " style="left:950px;top:187px;width:49px;"><b>1</b></div>
<div class="c " style="left:1000px;top:187px;width:49px;"><b>2</b></div>
<div class="c " style="left:1050px;top:187px;width:49px;"><b>5</b></div>
<div class="c " style="left:1150px;top:187px;width:49px;"><b>7</b></div>
<div class="c " style="left:451px;top:213px;width:48px;"><b>4</b></div>
<div class="c " style="left:550px;top:213px;width:49px;"><b>2</b></div>
<div class="c " style="left:600px;top:213px;width:49px;"><b>11</b></div>
<div class="c " style="left:651px;top:213px;width:48px;"><b>11</b></div>
<div class="c " style="left:700px;top:213px;width:49px;"><b>2</b></div>
<div class="c " style="left:800px;top:213px;width:49px;"><b>4</b></div>
<div class="c " style="left:851px;top:213px;width:48px;"><b>11</b></div>
<div class="c " style="left:900px;top:213px;width:49px;"><b>68</b></div>
<div class="c " style="left:950px;top:213px;width:49px;"><b>2</b></div>
<div class="c " style="left:1000px;top:213px;width:49px;"><b>3</b></div>
<div class="c " style="left:1050px;top:213px;width:49px;"><b>6</b></div>
<div class="c " style="left:1150px;top:213px;width:49px;"><b>8</b></div>
<div class="c " style="left:451px;top:240px;width:48px;"><b>5</b></div>
<div class="c " style="left:500px;top:240px;width:49px;"><b>1</b></div>
<div class="c " style="left:550px;top:240px;width:49px;"><b>3</b></div>
<div class="c " style="left:700px;top:240px;width:49px;"><b>3</b></div>
<div class="c " style="left:750px;top:240px;width:49px;"><b>1</b></div>
<div class="c " style="left:800px;top:240px;width:49px;"><b>5</b></div>
<div class="c " style="left:900px;top:240px;width:49px;"><b>69</b></div>
<div class="c " style="left:950px;top:240px;width:49px;"><b>3</b></div>
<div class="c " style="left:1000px;top:240px;width:49px;"><b>4</b></div>
<div class="c " style="left:1050px;top:240px;width:49px;"><b>7</b></div>
<div class="c " style="left:1100px;top:240px;width:49px;"><b>1</b></div>
<div class="c " style="left:1150px;top:240px;width:49px;"><b>9</b></div>
<div class="c " style="left:451px;top:266px;width:48px;"><b>6</b></div>
<div class="c " style="left:500px;top:266px;width:49px;"><b>2</b></div>
<div class="c " style="left:600px;top:266px;width:49px;"><b>1</b></div>
<div class="c " style="left:651px;top:266px;width:48px;"><b>1</b></div>
<div class="c " style="left:750px;top:266px;width:49px;"><b>2</b></div>
<div class="c " style="left:800px;top:266px;width:49px;"><b>6</b></div>
<div class="c " style="left:851px;top:266px;width:48px;"><b>1</b></div>
<div class="c " style="left:900px;top:266px;width:49px;"><b>70</b></div>
<div class="c " style="left:1000px;top:266px;width:49px;"><b>5</b></div>
<div class="c " style="left:1050px;top:266px;width:49px;"><b>8</b></div>
<div class="c " style="left:1100px;top:266px;width:49px;"><b>2</b></div>
<div class="c " style="left:1150px;top:266px;width:49px;"><b>10</b></div>
<div class="c " style="left:451px;top:292px;width:48px;"><b>7</b></div>
<div class="c " style="left:550px;top:292px;width:49px;"><b>1</b></div>
<div class="c " style="left:600px;top:292px;width:49px;"><b>2</b></div>
<div class="c " style="left:651px;top:292px;width:48px;"><b>2</b></div>
<div class="c " style="left:700px;top:292px;width:49px;"><b>1</b></div>
<div class="c " style="left:800px;top:292px;width:49px;"><b>7</b></div>
<div class="c " style="left:851px;top:292px;width:48px;"><b>2</b></div>
<div class="c " style="left:900px;top:292px;width:49px;"><b>71</b></div>
<div class="c " style="left:950px;top:292px;width:49px;"><b>1</b></div>
<div class="c " style="left:1000px;top:292px;width:49px;"><b>6</b></div>
<div class="c " style="left:1100px;top:292px;width:49px;"><b>3</b></div>
<div class="c " style="left:1150px;top:292px;width:49px;"><b>11</b></div>
<div class="c " style="left:451px;top:318px;width:48px;"><b>8</b></div>
<div class="c " style="left:500px;top:318px;width:49px;"><b>1</b></div>
<div class="c " style="left:550px;top:318px;width:49px;"><b>2</b></div>
<div class="c " style="left:700px;top:318px;width:49px;"><b>2</b></div>
<div class="c " style="left:750px;top:318px;width:49px;"><b>1</b></div>
<div class="c " style="left:800px;top:318px;width:49px;"><b>8</b></div>
<div class="c " style="left:900px;top:318px;width:49px;"><b>72</b></div>
<div class="c " style="left:950px;top:318px;width:49px;"><b>2</b></div>
<div class="c " style="left:1000px;top:318px;width:49px;"><b>7</b></div>
<div class="c " style="left:1050px;top:318px;width:49px;"><b>1</b></div>
<div class="c " style="left:1100px;top:318px;width:49px;"><b>4</b></div>
<div class="c " style="left:1150px;top:318px;width:49px;"><b>12</b></div>
<div class="c " style="left:451px;top:344px;width:48px;"><b>9</b></div>
<div class="c " style="left:550px;top:344px;width:49px;"><b>3</b></div>
<div class="c " style="left:600px;top:344px;width:49px;"><b>1</b></div>
<div class="c " style="left:651px;top:344px;width:48px;"><b>1</b></div>
<div class="c " style="left:700px;top:344px;width:49px;"><b>3</b></div>
<div class="c " style="left:800px;top:344px;width:49px;"><b>9</b></div>
<div class="c " style="left:851px;top:344px;width:48px;"><b>1</b></div>
<div class="c " style="left:900px;top:344px;width:49px;"><b>73</b></div>
<div class="c " style="left:950px;top:344px;width:49px;"><b>3</b></div>
<div class="c " style="left:1000px;top:344px;width:49px;"><b>8</b></div>
<div class="c " style="left:1050px;top:344px;width:49px;"><b>2</b></div>
<div class="c " style="left:1150px;top:344px;width:49px;"><b>13</b></div>
<div class="c " style="left:451px;top:371px;width:48px;"><b>10</b></div>
<div class="c " style="left:550px;top:371px;width:49px;"><b>4</b></div>
<div class="c " style="left:600px;top:371px;width:49px;"><b>2</b></div>
<div class="c " style="left:651px;top:371px;width:48px;"><b>2</b></div>
<div class="c " style="left:700px;top:371px;width:49px;"><b>4</b></div>
<div class="c " style="left:800px;top:371px;width:49px;"><b>10</b></div>
<div class="c " style="left:851px;top:371px;width:48px;"><b>2</b></div>
<div class="c " style="left:900px;top:371px;width:49px;"><b>74</b></div>
<div class="c " style="left:950px;top:371px;width:49px;"><b>4</b></div>
<div class="c " style="left:1000px;top:371px;width:49px;"><b>9</b></div>
<div class="c " style="left:1050px;top:371px;width:49px;"><b>3</b></div>
<div class="c " style="left:1100px;top:371px;width:49px;"><b>1</b></div>
<div class="c " style="left:451px;top:397px;width:48px;"><b>11</b></div>
<div class="c " style="left:500px;top:397px;width:49px;"><b>1</b></div>
<div class="c " style="left:600px;top:397px;width:49px;"><b>3</b></div>
<div class="c " style="left:651px;top:397px;width:48px;"><b>3</b></div>
<div class="c " style="left:750px;top:397px;width:49px;"><b>1</b></div>
<div class="c " style="left:800px;top:397px;width:49px;"><b>11</b></div>
<div class="c " style="left:851px;top:397px;width:48px;"><b>3</b></div>
<div class="c " style="left:950px;top:397px;width:49px;"><b>5</b></div>
<div class="c " style="left:1000px;top:397px;width:49px;"><b>10</b></div>
<div class="c " style="left:1050px;top:397px;width:49px;"><b>4</b></div>
<div class="c " style="left:1100px;top:397px;width:49px;"><b>2</b></div>
<div class="c " style="left:1150px;top:397px;width:49px;"><b>1</b></div>
<div class="c " style="left:451px;top:423px;width:48px;"><b>12</b></div>
<div class="c " style="left:550px;top:423px;width:49px;"><b>1</b></div>
<div class="c " style="left:600px;top:423px;width:49px;"><b>4</b></div>
<div class="c " style="left:651px;top:423px;width:48px;"><b>4</b></div>
<div class="c " style="left:700px;top:423px;width:49px;"><b>1</b></div>
<div class="c " style="left:800px;top:423px;width:49px;"><b>12</b></div>
<div class="c " style="left:851px;top:423px;width:48px;"><b>4</b></div>
<div class="c " style="left:900px;top:423px;width:49px;"><b>1</b></div>
<div class="c " style="left:950px;top:423px;width:49px;"><b>6</b></div>
<div class="c " style="left:1000px;top:423px;width:49px;"><b>11</b></div>
<div class="c " style="left:1050px;top:423px;width:49px;"><b>5</b></div>
<div class="c " style="left:1100px;top:423px;width:49px;"><b>3</b></div>
<div class="c " style="left:451px;top:449px;width:48px;"><b>13</b></div>
<div class="c " style="left:500px;top:449px;width:49px;"><b>1</b></div>
<div class="c " style="left:600px;top:449px;width:49px;"><b>5</b></div>
<div class="c " style="left:651px;top:449px;width:48px;"><b>5</b></div>
<div class="c " style="left:750px;top:449px;width:49px;"><b>1</b></div>
<div class="c " style="left:800px;top:449px;width:49px;"><b>13</b></div>
<div class="c " style="left:851px;top:449px;width:48px;"><b>5</b></div>
<div class="c " style="left:900px;top:449px;width:49px;"><b>2</b></div>
<div class="c " style="left:1000px;top:449px;width:49px;"><b>12</b></div>
<div class="c " style="left:1050px;top:449px;width:49px;"><b>6</b></div>
<div class="c " style="left:1100px;top:449px;width:49px;"><b>4</b></div>
<div class="c " style="left:1150px;top:449px;width:49px;"><b>1</b></div>
<div class="c " style="left:500px;top:475px;width:49px;"><b>2</b></div>
<div class="c " style="left:550px;top:475px;width:49px;"><b>1</b></div>
<div class="c " style="left:600px;top:475px;width:49px;"><b>6</b></div>
<div class="c " style="left:651px;top:475px;width:48px;"><b>6</b></div>
<div class="c " style="left:700px;top:475px;width:49px;"><b>1</b></div>
<div class="c " style="left:750px;top:475px;width:49px;"><b>2</b></div>
<div class="c " style="left:851px;top:475px;width:48px;"><b>6</b></div>
<div class="c " style="left:900px;top:475px;width:49px;"><b>3</b></div>
<div class="c " style="left:950px;top:475px;width:49px;"><b>1</b></div>
<div class="c " style="left:1000px;top:475px;width:49px;"><b>13</b></div>
<div class="c " style="left:1050px;top:475px;width:49px;"><b>7</b></div>
<div class="c " style="left:1100px;top:475px;width:49px;"><b>5</b></div>
<div class="c " style="left:1150px;top:475px;width:49px;"><b>2</b></div>
<div class="c " style="left:500px;top:502px;width:49px;"><b>3</b></div>
<div class="c " style="left:550px;top:502px;width:49px;"><b>2</b></div>
<div class="c " style="left:600px;top:502px;width:49px;"><b>7</b></div>
<div class="c " style="left:651px;top:502px;width:48px;"><b>7</b></div>
<div class="c " style="left:700px;top:502px;width:49px;"><b>2</b></div>
<div class="c " style="left:750px;top:502px;width:49px;"><b>3</b></div>
<div class="c " style="left:851px;top:502px;width:48px;"><b>7</b></div>
<div class="c " style="left:900px;top:502px;width:49px;"><b>4</b></div>
<div class="c " style="left:950px;top:502px;width:49px;"><b>2</b></div>
<div class="c " style="left:1000px;top:502px;width:49px;"><b>14</b></div>
<div class="c " style="left:1050px;top:502px;width:49px;"><b>8</b></div>
<div class="c " style="left:1100px;top:502px;width:49px;"><b>6</b></div>
<div class="c " style="left:1150px;top:502px;width:49px;"><b>3</b></div>
<div class="c " style="left:451px;top:528px;width:48px;"><b>1</b></div>
<div class="c " style="left:500px;top:528px;width:49px;"><b>4</b></div>
<div class="c " style="left:600px;top:528px;width:49px;"><b>8</b></div>
<div class="c " style="left:651px;top:528px;width:48px;"><b>8</b></div>
<div class="c " style="left:750px;top:528px;width:49px;"><b>4</b></div>
<div class="c " style="left:800px;top:528px;width:49px;"><b>1</b></div>
<div class="c " style="left:851px;top:528px;width:48px;"><b>8</b></div>
<div class="c " style="left:950px;top:528px;width:49px;"><b>3</b></div>
<div class="c " style="left:1000px;top:528px;width:49px;"><b>15</b></div>
<div class="c " style="left:1050px;top:528px;width:49px;"><b>9</b></div>
<div class="c " style="left:1100px;top:528px;width:49px;"><b>7</b></div>
<div class="c " style="left:1150px;top:528px;width:49px;"><b>4</b></div>
<div class="c " style="left:451px;top:554px;width:48px;"><b>2</b></div>
<div class="c " style="left:500px;top:554px;width:49px;"><b>5</b></div>
<div class="c " style="left:550px;top:554px;width:49px;"><b>1</b></div>
<div class="c " style="left:700px;top:554px;width:49px;"><b>1</b></div>
<div class="c " style="left:750px;top:554px;width:49px;"><b>5</b></div>
<div class="c " style="left:800px;top:554px;width:49px;"><b>2</b></div>
<div class="c " style="left:900px;top:554px;width:49px;"><b>1</b></div>
<div class="c " style="left:950px;top:554px;width:49px;"><b>4</b></div>
<div class="c " style="left:1000px;top:554px;width:49px;"><b>16</b></div>
<div class="c " style="left:1050px;top:554px;width:49px;"><b>10</b></div>
<div class="c " style="left:1100px;top:554px;width:49px;"><b>8</b></div>
<div class="c " style="left:1150px;top:554px;width:49px;"><b>5</b></div>
<div class="c " style="left:451px;top:580px;width:48px;"><b>3</b></div>
<div class="c " style="left:500px;top:580px;width:49px;"><b>6</b></div>
<div class="c " style="left:600px;top:580px;width:49px;"><b>1</b></div>
<div class="c " style="left:651px;top:580px;width:48px;"><b>1</b></div>
<div class="c " style="left:750px;top:580px;width:49px;"><b>6</b></div>
<div class="c " style="left:800px;top:580px;width:49px;"><b>3</b></div>
<div class="c " style="left:851px;top:580px;width:48px;"><b>1</b></div>
<div class="c " style="left:900px;top:580px;width:49px;"><b>2</b></div>
<div class="c " style="left:1000px;top:580px;width:49px;"><b>17</b></div>
<div class="c " style="left:1050px;top:580px;width:49px;"><b>11</b></div>
<div class="c " style="left:1100px;top:580px;width:49px;"><b>9</b></div>
<div class="c " style="left:1150px;top:580px;width:49px;"><b>6</b></div>
<div class="c " style="left:451px;top:606px;width:48px;"><b>4</b></div>
<div class="c " style="left:500px;top:606px;width:49px;"><b>7</b></div>
<div class="c " style="left:600px;top:606px;width:49px;"><b>2</b></div>
<div class="c " style="left:651px;top:606px;width:48px;"><b>2</b></div>
<div class="c " style="left:750px;top:606px;width:49px;"><b>7</b></div>
<div class="c " style="left:800px;top:606px;width:49px;"><b>4</b></div>
<div class="c " style="left:851px;top:606px;width:48px;"><b>2</b></div>
<div class="c " style="left:950px;top:606px;width:49px;"><b>1</b></div>
<div class="c " style="left:1000px;top:606px;width:49px;"><b>18</b></div>
<div class="c " style="left:1050px;top:606px;width:49px;"><b>12</b></div>
<div class="c " style="left:1100px;top:606px;width:49px;"><b>10</b></div>
<div class="c " style="left:1150px;top:606px;width:49px;"><b>7</b></div>
<div class="vd" style="left:59px;top:4px;height:655px"></div>
<div class="vd" style="left:104px;top:4px;height:655px"></div>
<div class="vd" style="left:149px;top:4px;height:655px"></div>
<div class="vl" style="left:199px;top:4px;height:655px"></div>
<div class="vd" style="left:249px;top:4px;height:655px"></div>
<div class="vl" style="left:299px;top:4px;height:655px"></div>
<div class="vd" style="left:349px;top:4px;height:655px"></div>
<div class="vl" style="left:399px;top:4px;height:655px"></div>
<div class="vd" style="left:449px;top:4px;height:655px"></div>
<div class="vl" style="left:499px;top:4px;height:655px"></div>
<div class="vl" style="left:549px;top:4px;height:655px"></div>
<div class="vl" style="left:599px;top:4px;height:655px"></div>
<div class="vd" style="left:649px;top:4px;height:655px"></div>
<div class="vl" style="left:699px;top:4px;height:655px"></div>
<div class="vl" style="left:749px;top:4px;height:655px"></div>
<div class="vl" style="left:799px;top:4px;height:655px"></div>
<div class="vd" style="left:849px;top:4px;height:655px"></div>
<div class="vl" style="left:899px;top:4px;height:655px"></div>
<div class="vl" style="left:949px;top:4px;height:655px"></div>
<div class="vl" style="left:999px;top:4px;height:655px"></div>
<div class="vl" style="left:1049px;top:4px;height:655px"></div>
<div class="vl" style="left:1099px;top:4px;height:655px"></div>
<div class="vl" style="left:1149px;top:4px;height:655px"></div>
<svg class="a" style="left:0;top:4px" width="1195" height="657" viewBox="0 4 1195 657">
<path d="M525.0 17.0 L525.0 43.0 L525.0 69.0 L575.0 95.0 L475.0 122.0 L575.0 148.0 L575.0 174.0 L525.0 200.0 L525.0 226.0 L625.0 253.0 L575.0 279.0 L525.0 305.0 L625.0 331.0 L525.0 357.0 L525.0 384.0 L575.0 410.0 L525.0 436.0 L575.0 462.0 L475.0 488.0 L475.0 515.0 L575.0 541.0 L625.0 567.0 L575.0 593.0 L575.0 619.0" fill="none" stroke="#7a77c4" stroke-width="1.8"/>
<path d="M775.0 17.0 L775.0 43.0 L775.0 69.0 L725.0 95.0 L825.0 122.0 L725.0 148.0 L725.0 174.0 L775.0 200.0 L775.0 226.0 L675.0 253.0 L725.0 279.0 L775.0 305.0 L675.0 331.0 L775.0 357.0 L775.0 384.0 L725.0 410.0 L775.0 436.0 L725.0 462.0 L825.0 488.0 L825.0 515.0 L725.0 541.0 L675.0 567.0 L725.0 593.0 L725.0 619.0" fill="none" stroke="#7a77c4" stroke-width="1.8"/>
<path d="M1175.0 17.0 L1125.0 43.0 L1075.0 69.0 L975.0 95.0 L1225.0 122.0 L1025.0 148.0 L975.0 174.0 L1125.0 200.0 L1125.0 226.0 L875.0 253.0 L975.0 279.0 L1075.0 305.0 L875.0 331.0 L1125.0 357.0 L1175.0 384.0 L925.0 410.0 L1175.0 436.0 L975.0 462.0 L1225.0 488.0 L1225.0 515.0 L925.0 541.0 L875.0 567.0 L975.0 593.0 L925.0 619.0" fill="none" stroke="#7a77c4" stroke-width="1.8"/>
<path d="M475 -9 L525 17" fill="none" stroke="#7a77c4" stroke-width="2"/>
</svg>
<div class="c hi" style="left:500px;top:4px;width:49px;"><b>1:2</b></div>
<div class="c hi" style="left:750px;top:4px;width:49px;"><b>1</b><svg class="g" viewBox="0 0 12 12"><path d="M0.1 4.2H11.9M6 0.9V4.2C6 7.4 4 9.9 0.5 11.3M6.2 5C7 8.1 8.8 10.2 11.7 11.3"/></svg><b>2</b><svg class="g" viewBox="0 0 12 12"><path d="M5.6 1V10.5Q5.6 11.2 4.8 11.2H3M3.1 3.4L0.4 8.3M8.5 3.4L11.5 8.5"/></svg></div>
<div class="c hi" style="left:1150px;top:4px;width:49px;"><svg class="g" viewBox="0 0 12 12"><path d="M5.6 1V10.5Q5.6 11.2 4.8 11.2H3M3.1 3.4L0.4 8.3M8.5 3.4L11.5 8.5"/></svg><svg class="g" viewBox="0 0 12 12"><path d="M5.6 1V10.5Q5.6 11.2 4.8 11.2H3M3.1 3.4L0.4 8.3M8.5 3.4L11.5 8.5"/></svg><svg class="g" viewBox="0 0 12 12"><path d="M0.1 4.2H11.9M6 0.9V4.2C6 7.4 4 9.9 0.5 11.3M6.2 5C7 8.1 8.8 10.2 11.7 11.3"/></svg></div>
<div class="c hi" style="left:500px;top:30px;width:49px;"><b>1:2</b></div>
<div class="c hi" style="left:750px;top:30px;width:49px;"><b>1</b><svg class="g" viewBox="0 0 12 12"><path d="M0.1 4.2H11.9M6 0.9V4.2C6 7.4 4 9.9 0.5 11.3M6.2 5C7 8.1 8.8 10.2 11.7 11.3"/></svg><b>2</b><svg class="g" viewBox="0 0 12 12"><path d="M5.6 1V10.5Q5.6 11.2 4.8 11.2H3M3.1 3.4L0.4 8.3M8.5 3.4L11.5 8.5"/></svg></div>
<div class="c hi" style="left:1100px;top:30px;width:49px;"><svg class="g" viewBox="0 0 12 12"><path d="M5.6 1V10.5Q5.6 11.2 4.8 11.2H3M3.1 3.4L0.4 8.3M8.5 3.4L11.5 8.5"/></svg><svg class="g" viewBox="0 0 12 12"><path d="M0.1 4.2H11.9M6 0.9V4.2C6 7.4 4 9.9 0.5 11.3M6.2 5C7 8.1 8.8 10.2 11.7 11.3"/></svg><svg class="g" viewBox="0 0 12 12"><path d="M5.6 1V10.5Q5.6 11.2 4.8 11.2H3M3.1 3.4L0.4 8.3M8.5 3.4L11.5 8.5"/></svg></div>
<div class="c hi" style="left:500px;top:56px;width:49px;"><b>1:2</b></div>
<div class="c hi" style="left:750px;top:56px;width:49px;"><b>1</b><svg class="g" viewBox="0 0 12 12"><path d="M0.1 4.2H11.9M6 0.9V4.2C6 7.4 4 9.9 0.5 11.3M6.2 5C7 8.1 8.8 10.2 11.7 11.3"/></svg><b>2</b><svg class="g" viewBox="0 0 12 12"><path d="M5.6 1V10.5Q5.6 11.2 4.8 11.2H3M3.1 3.4L0.4 8.3M8.5 3.4L11.5 8.5"/></svg></div>
<div class="c hi" style="left:1050px;top:56px;width:49px;"><svg class="g" viewBox="0 0 12 12"><path d="M0.1 4.2H11.9M6 0.9V4.2C6 7.4 4 9.9 0.5 11.3M6.2 5C7 8.1 8.8 10.2 11.7 11.3"/></svg><svg class="g" viewBox="0 0 12 12"><path d="M5.6 1V10.5Q5.6 11.2 4.8 11.2H3M3.1 3.4L0.4 8.3M8.5 3.4L11.5 8.5"/></svg><svg class="g" viewBox="0 0 12 12"><path d="M5.6 1V10.5Q5.6 11.2 4.8 11.2H3M3.1 3.4L0.4 8.3M8.5 3.4L11.5 8.5"/></svg></div>
<div class="c hi" style="left:550px;top:82px;width:49px;"><b>2:1</b></div>
<div class="c hi" style="left:700px;top:82px;width:49px;"><b>2</b><svg class="g" viewBox="0 0 12 12"><path d="M0.1 4.2H11.9M6 0.9V4.2C6 7.4 4 9.9 0.5 11.3M6.2 5C7 8.1 8.8 10.2 11.7 11.3"/></svg><b>1</b><svg class="g" viewBox="0 0 12 12"><path d="M5.6 1V10.5Q5.6 11.2 4.8 11.2H3M3.1 3.4L0.4 8.3M8.5 3.4L11.5 8.5"/></svg></div>
<div class="c hi" style="left:950px;top:82px;width:49px;"><svg class="g" viewBox="0 0 12 12"><path d="M0.1 4.2H11.9M6 0.9V4.2C6 7.4 4 9.9 0.5 11.3M6.2 5C7 8.1 8.8 10.2 11.7 11.3"/></svg><svg class="g" viewBox="0 0 12 12"><path d="M5.6 1V10.5Q5.6 11.2 4.8 11.2H3M3.1 3.4L0.4 8.3M8.5 3.4L11.5 8.5"/></svg><svg class="g" viewBox="0 0 12 12"><path d="M0.1 4.2H11.9M6 0.9V4.2C6 7.4 4 9.9 0.5 11.3M6.2 5C7 8.1 8.8 10.2 11.7 11.3"/></svg></div>
<div class="c hi" style="left:451px;top:109px;width:48px;"><b>0:3</b></div>
<div class="c hi" style="left:800px;top:109px;width:49px;"><svg class="g" viewBox="0 0 12 12"><path d="M5.8 1.1L0 5.4M5.8 1.1L11.6 5.4M2.8 5H8.8M1.2 8.5H10.4M5.8 5V11M0.4 11.2H11.4"/></svg><svg class="g" viewBox="0 0 12 12"><path d="M5.6 1V10.5Q5.6 11.2 4.8 11.2H3M3.1 3.4L0.4 8.3M8.5 3.4L11.5 8.5"/></svg></div>
<div class="c hi" style="left:550px;top:135px;width:49px;"><b>2:1</b></div>
<div class="c hi" style="left:700px;top:135px;width:49px;"><b>2</b><svg class="g" viewBox="0 0 12 12"><path d="M0.1 4.2H11.9M6 0.9V4.2C6 7.4 4 9.9 0.5 11.3M6.2 5C7 8.1 8.8 10.2 11.7 11.3"/></svg><b>1</b><svg class="g" viewBox="0 0 12 12"><path d="M5.6 1V10.5Q5.6 11.2 4.8 11.2H3M3.1 3.4L0.4 8.3M8.5 3.4L11.5 8.5"/></svg></div>
<div class="c hi" style="left:1000px;top:135px;width:49px;"><svg class="g" viewBox="0 0 12 12"><path d="M5.6 1V10.5Q5.6 11.2 4.8 11.2H3M3.1 3.4L0.4 8.3M8.5 3.4L11.5 8.5"/></svg><svg class="g" viewBox="0 0 12 12"><path d="M0.1 4.2H11.9M6 0.9V4.2C6 7.4 4 9.9 0.5 11.3M6.2 5C7 8.1 8.8 10.2 11.7 11.3"/></svg><svg class="g" viewBox="0 0 12 12"><path d="M0.1 4.2H11.9M6 0.9V4.2C6 7.4 4 9.9 0.5 11.3M6.2 5C7 8.1 8.8 10.2 11.7 11.3"/></svg></div>
<div class="c hi" style="left:550px;top:161px;width:49px;"><b>2:1</b></div>
<div class="c hi" style="left:700px;top:161px;width:49px;"><b>2</b><svg class="g" viewBox="0 0 12 12"><path d="M0.1 4.2H11.9M6 0.9V4.2C6 7.4 4 9.9 0.5 11.3M6.2 5C7 8.1 8.8 10.2 11.7 11.3"/></svg><b>1</b><svg class="g" viewBox="0 0 12 12"><path d="M5.6 1V10.5Q5.6 11.2 4.8 11.2H3M3.1 3.4L0.4 8.3M8.5 3.4L11.5 8.5"/></svg></div>
<div class="c hi" style="left:950px;top:161px;width:49px;"><svg class="g" viewBox="0 0 12 12"><path d="M0.1 4.2H11.9M6 0.9V4.2C6 7.4 4 9.9 0.5 11.3M6.2 5C7 8.1 8.8 10.2 11.7 11.3"/></svg><svg class="g" viewBox="0 0 12 12"><path d="M5.6 1V10.5Q5.6 11.2 4.8 11.2H3M3.1 3.4L0.4 8.3M8.5 3.4L11.5 8.5"/></svg><svg class="g" viewBox="0 0 12 12"><path d="M0.1 4.2H11.9M6 0.9V4.2C6 7.4 4 9.9 0.5 11.3M6.2 5C7 8.1 8.8 10.2 11.7 11.3"/></svg></div>
<div class="c hi" style="left:500px;top:187px;width:49px;"><b>1:2</b></div>
<div class="c hi" style="left:750px;top:187px;width:49px;"><b>1</b><svg class="g" viewBox="0 0 12 12"><path d="M0.1 4.2H11.9M6 0.9V4.2C6 7.4 4 9.9 0.5 11.3M6.2 5C7 8.1 8.8 10.2 11.7 11.3"/></svg><b>2</b><svg class="g" viewBox="0 0 12 12"><path d="M5.6 1V10.5Q5.6 11.2 4.8 11.2H3M3.1 3.4L0.4 8.3M8.5 3.4L11.5 8.5"/></svg></div>
<div class="c hi" style="left:1100px;top:187px;width:49px;"><svg class="g" viewBox="0 0 12 12"><path d="M5.6 1V10.5Q5.6 11.2 4.8 11.2H3M3.1 3.4L0.4 8.3M8.5 3.4L11.5 8.5"/></svg><svg class="g" viewBox="0 0 12 12"><path d="M0.1 4.2H11.9M6 0.9V4.2C6 7.4 4 9.9 0.5 11.3M6.2 5C7 8.1 8.8 10.2 11.7 11.3"/></svg><svg class="g" viewBox="0 0 12 12"><path d="M5.6 1V10.5Q5.6 11.2 4.8 11.2H3M3.1 3.4L0.4 8.3M8.5 3.4L11.5 8.5"/></svg></div>
<div class="c hi" style="left:500px;top:213px;width:49px;"><b>1:2</b></div>
<div class="c hi" style="left:750px;top:213px;width:49px;"><b>1</b><svg class="g" viewBox="0 0 12 12"><path d="M0.1 4.2H11.9M6 0.9V4.2C6 7.4 4 9.9 0.5 11.3M6.2 5C7 8.1 8.8 10.2 11.7 11.3"/></svg><b>2</b><svg class="g" viewBox="0 0 12 12"><path d="M5.6 1V10.5Q5.6 11.2 4.8 11.2H3M3.1 3.4L0.4 8.3M8.5 3.4L11.5 8.5"/></svg></div>
<div class="c hi" style="left:1100px;top:213px;width:49px;"><svg class="g" viewBox="0 0 12 12"><path d="M5.6 1V10.5Q5.6 11.2 4.8 11.2H3M3.1 3.4L0.4 8.3M8.5 3.4L11.5 8.5"/></svg><svg class="g" viewBox="0 0 12 12"><path d="M0.1 4.2H11.9M6 0.9V4.2C6 7.4 4 9.9 0.5 11.3M6.2 5C7 8.1 8.8 10.2 11.7 11.3"/></svg><svg class="g" viewBox="0 0 12 12"><path d="M5.6 1V10.5Q5.6 11.2 4.8 11.2H3M3.1 3.4L0.4 8.3M8.5 3.4L11.5 8.5"/></svg></div>
<div class="c hi" style="left:600px;top:240px;width:49px;"><b>3:0</b></div>
<div class="c hi" style="left:651px;top:240px;width:48px;"><svg class="g" viewBox="0 0 12 12"><path d="M5.8 1.1L0 5.4M5.8 1.1L11.6 5.4M2.8 5H8.8M1.2 8.5H10.4M5.8 5V11M0.4 11.2H11.4"/></svg><svg class="g" viewBox="0 0 12 12"><path d="M0.1 4.2H11.9M6 0.9V4.2C6 7.4 4 9.9 0.5 11.3M6.2 5C7 8.1 8.8 10.2 11.7 11.3"/></svg></div>
<div class="c hi" style="left:851px;top:240px;width:48px;"><svg class="g" viewBox="0 0 12 12"><path d="M0.1 4.2H11.9M6 0.9V4.2C6 7.4 4 9.9 0.5 11.3M6.2 5C7 8.1 8.8 10.2 11.7 11.3"/></svg><svg class="g" viewBox="0 0 12 12"><path d="M0.1 4.2H11.9M6 0.9V4.2C6 7.4 4 9.9 0.5 11.3M6.2 5C7 8.1 8.8 10.2 11.7 11.3"/></svg><svg class="g" viewBox="0 0 12 12"><path d="M0.1 4.2H11.9M6 0.9V4.2C6 7.4 4 9.9 0.5 11.3M6.2 5C7 8.1 8.8 10.2 11.7 11.3"/></svg></div>
<div class="c hi" style="left:550px;top:266px;width:49px;"><b>2:1</b></div>
<div class="c hi" style="left:700px;top:266px;width:49px;"><b>2</b><svg class="g" viewBox="0 0 12 12"><path d="M0.1 4.2H11.9M6 0.9V4.2C6 7.4 4 9.9 0.5 11.3M6.2 5C7 8.1 8.8 10.2 11.7 11.3"/></svg><b>1</b><svg class="g" viewBox="0 0 12 12"><path d="M5.6 1V10.5Q5.6 11.2 4.8 11.2H3M3.1 3.4L0.4 8.3M8.5 3.4L11.5 8.5"/></svg></div>
<div class="c hi" style="left:950px;top:266px;width:49px;"><svg class="g" viewBox="0 0 12 12"><path d="M0.1 4.2H11.9M6 0.9V4.2C6 7.4 4 9.9 0.5 11.3M6.2 5C7 8.1 8.8 10.2 11.7 11.3"/></svg><svg class="g" viewBox="0 0 12 12"><path d="M5.6 1V10.5Q5.6 11.2 4.8 11.2H3M3.1 3.4L0.4 8.3M8.5 3.4L11.5 8.5"/></svg><svg class="g" viewBox="0 0 12 12"><path d="M0.1 4.2H11.9M6 0.9V4.2C6 7.4 4 9.9 0.5 11.3M6.2 5C7 8.1 8.8 10.2 11.7 11.3"/></svg></div>
<div class="c hi" style="left:500px;top:292px;width:49px;"><b>1:2</b></div>
<div class="c hi" style="left:750px;top:292px;width:49px;"><b>1</b><svg class="g" viewBox="0 0 12 12"><path d="M0.1 4.2H11.9M6 0.9V4.2C6 7.4 4 9.9 0.5 11.3M6.2 5C7 8.1 8.8 10.2 11.7 11.3"/></svg><b>2</b><svg class="g" viewBox="0 0 12 12"><path d="M5.6 1V10.5Q5.6 11.2 4.8 11.2H3M3.1 3.4L0.4 8.3M8.5 3.4L11.5 8.5"/></svg></div>
<div class="c hi" style="left:1050px;top:292px;width:49px;"><svg class="g" viewBox="0 0 12 12"><path d="M0.1 4.2H11.9M6 0.9V4.2C6 7.4 4 9.9 0.5 11.3M6.2 5C7 8.1 8.8 10.2 11.7 11.3"/></svg><svg class="g" viewBox="0 0 12 12"><path d="M5.6 1V10.5Q5.6 11.2 4.8 11.2H3M3.1 3.4L0.4 8.3M8.5 3.4L11.5 8.5"/></svg><svg class="g" viewBox="0 0 12 12"><path d="M5.6 1V10.5Q5.6 11.2 4.8 11.2H3M3.1 3.4L0.4 8.3M8.5 3.4L11.5 8.5"/></svg></div>
<div class="c hi" style="left:600px;top:318px;width:49px;"><b>3:0</b></div>
<div class="c hi" style="left:651px;top:318px;width:48px;"><svg class="g" viewBox="0 0 12 12"><path d="M5.8 1.1L0 5.4M5.8 1.1L11.6 5.4M2.8 5H8.8M1.2 8.5H10.4M5.8 5V11M0.4 11.2H11.4"/></svg><svg class="g" viewBox="0 0 12 12"><path d="M0.1 4.2H11.9M6 0.9V4.2C6 7.4 4 9.9 0.5 11.3M6.2 5C7 8.1 8.8 10.2 11.7 11.3"/></svg></div>
<div class="c hi" style="left:851px;top:318px;width:48px;"><svg class="g" viewBox="0 0 12 12"><path d="M0.1 4.2H11.9M6 0.9V4.2C6 7.4 4 9.9 0.5 11.3M6.2 5C7 8.1 8.8 10.2 11.7 11.3"/></svg><svg class="g" viewBox="0 0 12 12"><path d="M0.1 4.2H11.9M6 0.9V4.2C6 7.4 4 9.9 0.5 11.3M6.2 5C7 8.1 8.8 10.2 11.7 11.3"/></svg><svg class="g" viewBox="0 0 12 12"><path d="M0.1 4.2H11.9M6 0.9V4.2C6 7.4 4 9.9 0.5 11.3M6.2 5C7 8.1 8.8 10.2 11.7 11.3"/></svg></div>
<div class="c hi" style="left:500px;top:344px;width:49px;"><b>1:2</b></div>
<div class="c hi" style="left:750px;top:344px;width:49px;"><b>1</b><svg class="g" viewBox="0 0 12 12"><path d="M0.1 4.2H11.9M6 0.9V4.2C6 7.4 4 9.9 0.5 11.3M6.2 5C7 8.1 8.8 10.2 11.7 11.3"/></svg><b>2</b><svg class="g" viewBox="0 0 12 12"><path d="M5.6 1V10.5Q5.6 11.2 4.8 11.2H3M3.1 3.4L0.4 8.3M8.5 3.4L11.5 8.5"/></svg></div>
<div class="c hi" style="left:1100px;top:344px;width:49px;"><svg class="g" viewBox="0 0 12 12"><path d="M5.6 1V10.5Q5.6 11.2 4.8 11.2H3M3.1 3.4L0.4 8.3M8.5 3.4L11.5 8.5"/></svg><svg class="g" viewBox="0 0 12 12"><path d="M0.1 4.2H11.9M6 0.9V4.2C6 7.4 4 9.9 0.5 11.3M6.2 5C7 8.1 8.8 10.2 11.7 11.3"/></svg><svg class="g" viewBox="0 0 12 12"><path d="M5.6 1V10.5Q5.6 11.2 4.8 11.2H3M3.1 3.4L0.4 8.3M8.5 3.4L11.5 8.5"/></svg></div>
<div class="c hi" style="left:500px;top:371px;width:49px;"><b>1:2</b></div>
<div class="c hi" style="left:750px;top:371px;width:49px;"><b>1</b><svg class="g" viewBox="0 0 12 12"><path d="M0.1 4.2H11.9M6 0.9V4.2C6 7.4 4 9.9 0.5 11.3M6.2 5C7 8.1 8.8 10.2 11.7 11.3"/></svg><b>2</b><svg class="g" viewBox="0 0 12 12"><path d="M5.6 1V10.5Q5.6 11.2 4.8 11.2H3M3.1 3.4L0.4 8.3M8.5 3.4L11.5 8.5"/></svg></div>
<div class="c hi" style="left:1150px;top:371px;width:49px;"><svg class="g" viewBox="0 0 12 12"><path d="M5.6 1V10.5Q5.6 11.2 4.8 11.2H3M3.1 3.4L0.4 8.3M8.5 3.4L11.5 8.5"/></svg><svg class="g" viewBox="0 0 12 12"><path d="M5.6 1V10.5Q5.6 11.2 4.8 11.2H3M3.1 3.4L0.4 8.3M8.5 3.4L11.5 8.5"/></svg><svg class="g" viewBox="0 0 12 12"><path d="M0.1 4.2H11.9M6 0.9V4.2C6 7.4 4 9.9 0.5 11.3M6.2 5C7 8.1 8.8 10.2 11.7 11.3"/></svg></div>
<div class="c hi" style="left:550px;top:397px;width:49px;"><b>2:1</b></div>
<div class="c hi" style="left:700px;top:397px;width:49px;"><b>2</b><svg class="g" viewBox="0 0 12 12"><path d="M0.1 4.2H11.9M6 0.9V4.2C6 7.4 4 9.9 0.5 11.3M6.2 5C7 8.1 8.8 10.2 11.7 11.3"/></svg><b>1</b><svg class="g" viewBox="0 0 12 12"><path d="M5.6 1V10.5Q5.6 11.2 4.8 11.2H3M3.1 3.4L0.4 8.3M8.5 3.4L11.5 8.5"/></svg></div>
<div class="c hi" style="left:900px;top:397px;width:49px;"><svg class="g" viewBox="0 0 12 12"><path d="M0.1 4.2H11.9M6 0.9V4.2C6 7.4 4 9.9 0.5 11.3M6.2 5C7 8.1 8.8 10.2 11.7 11.3"/></svg><svg class="g" viewBox="0 0 12 12"><path d="M0.1 4.2H11.9M6 0.9V4.2C6 7.4 4 9.9 0.5 11.3M6.2 5C7 8.1 8.8 10.2 11.7 11.3"/></svg><svg class="g" viewBox="0 0 12 12"><path d="M5.6 1V10.5Q5.6 11.2 4.8 11.2H3M3.1 3.4L0.4 8.3M8.5 3.4L11.5 8.5"/></svg></div>
<div class="c hi" style="left:500px;top:423px;width:49px;"><b>1:2</b></div>
<div class="c hi" style="left:750px;top:423px;width:49px;"><b>1</b><svg class="g" viewBox="0 0 12 12"><path d="M0.1 4.2H11.9M6 0.9V4.2C6 7.4 4 9.9 0.5 11.3M6.2 5C7 8.1 8.8 10.2 11.7 11.3"/></svg><b>2</b><svg class="g" viewBox="0 0 12 12"><path d="M5.6 1V10.5Q5.6 11.2 4.8 11.2H3M3.1 3.4L0.4 8.3M8.5 3.4L11.5 8.5"/></svg></div>
<div class="c hi" style="left:1150px;top:423px;width:49px;"><svg class="g" viewBox="0 0 12 12"><path d="M5.6 1V10.5Q5.6 11.2 4.8 11.2H3M3.1 3.4L0.4 8.3M8.5 3.4L11.5 8.5"/></svg><svg class="g" viewBox="0 0 12 12"><path d="M5.6 1V10.5Q5.6 11.2 4.8 11.2H3M3.1 3.4L0.4 8.3M8.5 3.4L11.5 8.5"/></svg><svg class="g" viewBox="0 0 12 12"><path d="M0.1 4.2H11.9M6 0.9V4.2C6 7.4 4 9.9 0.5 11.3M6.2 5C7 8.1 8.8 10.2 11.7 11.3"/></svg></div>
<div class="c hi" style="left:550px;top:449px;width:49px;"><b>2:1</b></div>
<div class="c hi" style="left:700px;top:449px;width:49px;"><b>2</b><svg class="g" viewBox="0 0 12 12"><path d="M0.1 4.2H11.9M6 0.9V4.2C6 7.4 4 9.9 0.5 11.3M6.2 5C7 8.1 8.8 10.2 11.7 11.3"/></svg><b>1</b><svg class="g" viewBox="0 0 12 12"><path d="M5.6 1V10.5Q5.6 11.2 4.8 11.2H3M3.1 3.4L0.4 8.3M8.5 3.4L11.5 8.5"/></svg></div>
<div class="c hi" style="left:950px;top:449px;width:49px;"><svg class="g" viewBox="0 0 12 12"><path d="M0.1 4.2H11.9M6 0.9V4.2C6 7.4 4 9.9 0.5 11.3M6.2 5C7 8.1 8.8 10.2 11.7 11.3"/></svg><svg class="g" viewBox="0 0 12 12"><path d="M5.6 1V10.5Q5.6 11.2 4.8 11.2H3M3.1 3.4L0.4 8.3M8.5 3.4L11.5 8.5"/></svg><svg class="g" viewBox="0 0 12 12"><path d="M0.1 4.2H11.9M6 0.9V4.2C6 7.4 4 9.9 0.5 11.3M6.2 5C7 8.1 8.8 10.2 11.7 11.3"/></svg></div>
<div class="c hi" style="left:451px;top:475px;width:48px;"><b>0:3</b></div>
<div class="c hi" style="left:800px;top:475px;width:49px;"><svg class="g" viewBox="0 0 12 12"><path d="M5.8 1.1L0 5.4M5.8 1.1L11.6 5.4M2.8 5H8.8M1.2 8.5H10.4M5.8 5V11M0.4 11.2H11.4"/></svg><svg class="g" viewBox="0 0 12 12"><path d="M5.6 1V10.5Q5.6 11.2 4.8 11.2H3M3.1 3.4L0.4 8.3M8.5 3.4L11.5 8.5"/></svg></div>
<div class="c hi" style="left:451px;top:502px;width:48px;"><b>0:3</b></div>
<div class="c hi" style="left:800px;top:502px;width:49px;"><svg class="g" viewBox="0 0 12 12"><path d="M5.8 1.1L0 5.4M5.8 1.1L11.6 5.4M2.8 5H8.8M1.2 8.5H10.4M5.8 5V11M0.4 11.2H11.4"/></svg><svg class="g" viewBox="0 0 12 12"><path d="M5.6 1V10.5Q5.6 11.2 4.8 11.2H3M3.1 3.4L0.4 8.3M8.5 3.4L11.5 8.5"/></svg></div>
<div class="c hi" style="left:550px;top:528px;width:49px;"><b>2:1</b></div>
<div class="c hi" style="left:700px;top:528px;width:49px;"><b>2</b><svg class="g" viewBox="0 0 12 12"><path d="M0.1 4.2H11.9M6 0.9V4.2C6 7.4 4 9.9 0.5 11.3M6.2 5C7 8.1 8.8 10.2 11.7 11.3"/></svg><b>1</b><svg class="g" viewBox="0 0 12 12"><path d="M5.6 1V10.5Q5.6 11.2 4.8 11.2H3M3.1 3.4L0.4 8.3M8.5 3.4L11.5 8.5"/></svg></div>
<div class="c hi" style="left:900px;top:528px;width:49px;"><svg class="g" viewBox="0 0 12 12"><path d="M0.1 4.2H11.9M6 0.9V4.2C6 7.4 4 9.9 0.5 11.3M6.2 5C7 8.1 8.8 10.2 11.7 11.3"/></svg><svg class="g" viewBox="0 0 12 12"><path d="M0.1 4.2H11.9M6 0.9V4.2C6 7.4 4 9.9 0.5 11.3M6.2 5C7 8.1 8.8 10.2 11.7 11.3"/></svg><svg class="g" viewBox="0 0 12 12"><path d="M5.6 1V10.5Q5.6 11.2 4.8 11.2H3M3.1 3.4L0.4 8.3M8.5 3.4L11.5 8.5"/></svg></div>
<div class="c hi" style="left:600px;top:554px;width:49px;"><b>3:0</b></div>
<div class="c hi" style="left:651px;top:554px;width:48px;"><svg class="g" viewBox="0 0 12 12"><path d="M5.8 1.1L0 5.4M5.8 1.1L11.6 5.4M2.8 5H8.8M1.2 8.5H10.4M5.8 5V11M0.4 11.2H11.4"/></svg><svg class="g" viewBox="0 0 12 12"><path d="M0.1 4.2H11.9M6 0.9V4.2C6 7.4 4 9.9 0.5 11.3M6.2 5C7 8.1 8.8 10.2 11.7 11.3"/></svg></div>
<div class="c hi" style="left:851px;top:554px;width:48px;"><svg class="g" viewBox="0 0 12 12"><path d="M0.1 4.2H11.9M6 0.9V4.2C6 7.4 4 9.9 0.5 11.3M6.2 5C7 8.1 8.8 10.2 11.7 11.3"/></svg><svg class="g" viewBox="0 0 12 12"><path d="M0.1 4.2H11.9M6 0.9V4.2C6 7.4 4 9.9 0.5 11.3M6.2 5C7 8.1 8.8 10.2 11.7 11.3"/></svg><svg class="g" viewBox="0 0 12 12"><path d="M0.1 4.2H11.9M6 0.9V4.2C6 7.4 4 9.9 0.5 11.3M6.2 5C7 8.1 8.8 10.2 11.7 11.3"/></svg></div>
<div class="c hi" style="left:550px;top:580px;width:49px;"><b>2:1</b></div>
<div class="c hi" style="left:700px;top:580px;width:49px;"><b>2</b><svg class="g" viewBox="0 0 12 12"><path d="M0.1 4.2H11.9M6 0.9V4.2C6 7.4 4 9.9 0.5 11.3M6.2 5C7 8.1 8.8 10.2 11.7 11.3"/></svg><b>1</b><svg class="g" viewBox="0 0 12 12"><path d="M5.6 1V10.5Q5.6 11.2 4.8 11.2H3M3.1 3.4L0.4 8.3M8.5 3.4L11.5 8.5"/></svg></div>
<div class="c hi" style="left:950px;top:580px;width:49px;"><svg class="g" viewBox="0 0 12 12"><path d="M0.1 4.2H11.9M6 0.9V4.2C6 7.4 4 9.9 0.5 11.3M6.2 5C7 8.1 8.8 10.2 11.7 11.3"/></svg><svg class="g" viewBox="0 0 12 12"><path d="M5.6 1V10.5Q5.6 11.2 4.8 11.2H3M3.1 3.4L0.4 8.3M8.5 3.4L11.5 8.5"/></svg><svg class="g" viewBox="0 0 12 12"><path d="M0.1 4.2H11.9M6 0.9V4.2C6 7.4 4 9.9 0.5 11.3M6.2 5C7 8.1 8.8 10.2 11.7 11.3"/></svg></div>
<div class="c hi" style="left:550px;top:606px;width:49px;"><b>2:1</b></div>
<div class="c hi" style="left:700px;top:606px;width:49px;"><b>2</b><svg class="g" viewBox="0 0 12 12"><path d="M0.1 4.2H11.9M6 0.9V4.2C6 7.4 4 9.9 0.5 11.3M6.2 5C7 8.1 8.8 10.2 11.7 11.3"/></svg><b>1</b><svg class="g" viewBox="0 0 12 12"><path d="M5.6 1V10.5Q5.6 11.2 4.8 11.2H3M3.1 3.4L0.4 8.3M8.5 3.4L11.5 8.5"/></svg></div>
<div class="c hi" style="left:900px;top:606px;width:49px;"><svg class="g" viewBox="0 0 12 12"><path d="M0.1 4.2H11.9M6 0.9V4.2C6 7.4 4 9.9 0.5 11.3M6.2 5C7 8.1 8.8 10.2 11.7 11.3"/></svg><svg class="g" viewBox="0 0 12 12"><path d="M0.1 4.2H11.9M6 0.9V4.2C6 7.4 4 9.9 0.5 11.3M6.2 5C7 8.1 8.8 10.2 11.7 11.3"/></svg><svg class="g" viewBox="0 0 12 12"><path d="M5.6 1V10.5Q5.6 11.2 4.8 11.2H3M3.1 3.4L0.4 8.3M8.5 3.4L11.5 8.5"/></svg></div>
<div class="c ft" style="left:0px;top:633px;width:59px;"><svg class="g" viewBox="0 0 12 12"><path d="M0.6 1H5L3 3.2M2 3.6L3.4 4.4M0.4 5.4H5.6L4.8 6.4M3 5.4V11Q3 11.4 2 11.2M6 1H11.6M8.6 1L8 2.6M6.6 2.6H11V9H6.6ZM8.8 4V7.6M8.8 7.6L6.4 11.2M9.6 9.4L11.6 11.2"/></svg><svg class="g" viewBox="0 0 12 12"><path d="M0.8 0.8L2.2 2.2M0.4 4.4H2.4V9.4L0.4 10.8M2.4 9.4Q4 11 11.6 10.8M6 0.6L5 2.8M5.4 2.4H10.4M4.2 5H11.2M6.8 0.4V5M6.6 5Q6.6 8 4.4 9.4M8.4 5V8.6Q8.4 9.2 9.2 9.2H11"/></svg><svg class="g" viewBox="0 0 12 12"><path d="M3.4 0.5L0.4 3.2M3.6 3.6L0.4 6.8M2.2 5.4V11.4M5.4 1.4H11.2M4.8 4.6H11.6M9.2 4.6V10.6Q9.2 11.4 7.8 11.2"/></svg><b>1</b></div>
<div class="c ft" style="left:61px;top:633px;width:43px;"><b>-</b></div>
<div class="c ft" style="left:106px;top:633px;width:43px;"><b>-</b></div>
<div class="c ft" style="left:151px;top:633px;width:48px;"><svg class="g" viewBox="0 0 12 12"><path d="M0.1 4.2H11.9M6 0.9V4.2C6 7.4 4 9.9 0.5 11.3M6.2 5C7 8.1 8.8 10.2 11.7 11.3"/></svg></div>
<div class="c ft" style="left:200px;top:633px;width:49px;"><svg class="g" viewBox="0 0 12 12"><path d="M5.6 1V10.5Q5.6 11.2 4.8 11.2H3M3.1 3.4L0.4 8.3M8.5 3.4L11.5 8.5"/></svg></div>
<div class="c ft" style="left:251px;top:633px;width:48px;"><svg class="g" viewBox="0 0 12 12"><path d="M0.1 4.2H11.9M6 0.9V4.2C6 7.4 4 9.9 0.5 11.3M6.2 5C7 8.1 8.8 10.2 11.7 11.3"/></svg></div>
<div class="c ft" style="left:300px;top:633px;width:49px;"><svg class="g" viewBox="0 0 12 12"><path d="M5.6 1V10.5Q5.6 11.2 4.8 11.2H3M3.1 3.4L0.4 8.3M8.5 3.4L11.5 8.5"/></svg></div>
<div class="c ft" style="left:351px;top:633px;width:48px;"><svg class="g" viewBox="0 0 12 12"><path d="M0.1 4.2H11.9M6 0.9V4.2C6 7.4 4 9.9 0.5 11.3M6.2 5C7 8.1 8.8 10.2 11.7 11.3"/></svg></div>
<div class="c ft" style="left:400px;top:633px;width:49px;"><svg class="g" viewBox="0 0 12 12"><path d="M5.6 1V10.5Q5.6 11.2 4.8 11.2H3M3.1 3.4L0.4 8.3M8.5 3.4L11.5 8.5"/></svg></div>
<div class="c ft" style="left:451px;top:633px;width:48px;"><b>0:3</b></div>
<div class="c ft" style="left:500px;top:633px;width:49px;"><b>1:2</b></div>
<div class="c ft" style="left:550px;top:633px;width:49px;"><b>2:1</b></div>
<div class="c ft" style="left:600px;top:633px;width:49px;"><b>3:0</b></div>
<div class="c ft" style="left:651px;top:633px;width:48px;"><svg class="g" viewBox="0 0 12 12"><path d="M5.8 1.1L0 5.4M5.8 1.1L11.6 5.4M2.8 5H8.8M1.2 8.5H10.4M5.8 5V11M0.4 11.2H11.4"/></svg><svg class="g" viewBox="0 0 12 12"><path d="M0.1 4.2H11.9M6 0.9V4.2C6 7.4 4 9.9 0.5 11.3M6.2 5C7 8.1 8.8 10.2 11.7 11.3"/></svg></div>
<div class="c ft" style="left:700px;top:633px;width:49px;"><b>2</b><svg class="g" viewBox="0 0 12 12"><path d="M0.1 4.2H11.9M6 0.9V4.2C6 7.4 4 9.9 0.5 11.3M6.2 5C7 8.1 8.8 10.2 11.7 11.3"/></svg><b>1</b><svg class="g" viewBox="0 0 12 12"><path d="M5.6 1V10.5Q5.6 11.2 4.8 11.2H3M3.1 3.4L0.4 8.3M8.5 3.4L11.5 8.5"/></svg></div>
<div class="c ft" style="left:750px;top:633px;width:49px;"><b>1</b><svg class="g" viewBox="0 0 12 12"><path d="M0.1 4.2H11.9M6 0.9V4.2C6 7.4 4 9.9 0.5 11.3M6.2 5C7 8.1 8.8 10.2 11.7 11.3"/></svg><b>2</b><svg class="g" viewBox="0 0 12 12"><path d="M5.6 1V10.5Q5.6 11.2 4.8 11.2H3M3.1 3.4L0.4 8.3M8.5 3.4L11.5 8.5"/></svg></div>
<div class="c ft" style="left:800px;top:633px;width:49px;"><svg class="g" viewBox="0 0 12 12"><path d="M5.8 1.1L0 5.4M5.8 1.1L11.6 5.4M2.8 5H8.8M1.2 8.5H10.4M5.8 5V11M0.4 11.2H11.4"/></svg><svg class="g" viewBox="0 0 12 12"><path d="M5.6 1V10.5Q5.6 11.2 4.8 11.2H3M3.1 3.4L0.4 8.3M8.5 3.4L11.5 8.5"/></svg></div>
<div class="c ft" style="left:851px;top:633px;width:48px;"><svg class="g" viewBox="0 0 12 12"><path d="M0.1 4.2H11.9M6 0.9V4.2C6 7.4 4 9.9 0.5 11.3M6.2 5C7 8.1 8.8 10.2 11.7 11.3"/></svg><svg class="g" viewBox="0 0 12 12"><path d="M0.1 4.2H11.9M6 0.9V4.2C6 7.4 4 9.9 0.5 11.3M6.2 5C7 8.1 8.8 10.2 11.7 11.3"/></svg><svg class="g" viewBox="0 0 12 12"><path d="M0.1 4.2H11.9M6 0.9V4.2C6 7.4 4 9.9 0.5 11.3M6.2 5C7 8.1 8.8 10.2 11.7 11.3"/></svg></div>
<div class="c ft" style="left:900px;top:633px;width:49px;"><svg class="g" viewBox="0 0 12 12"><path d="M0.1 4.2H11.9M6 0.9V4.2C6 7.4 4 9.9 0.5 11.3M6.2 5C7 8.1 8.8 10.2 11.7 11.3"/></svg><svg class="g" viewBox="0 0 12 12"><path d="M0.1 4.2H11.9M6 0.9V4.2C6 7.4 4 9.9 0.5 11.3M6.2 5C7 8.1 8.8 10.2 11.7 11.3"/></svg><svg class="g" viewBox="0 0 12 12"><path d="M5.6 1V10.5Q5.6 11.2 4.8 11.2H3M3.1 3.4L0.4 8.3M8.5 3.4L11.5 8.5"/></svg></div>
<div class="c ft" style="left:950px;top:633px;width:49px;"><svg class="g" viewBox="0 0 12 12"><path d="M0.1 4.2H11.9M6 0.9V4.2C6 7.4 4 9.9 0.5 11.3M6.2 5C7 8.1 8.8 10.2 11.7 11.3"/></svg><svg class="g" viewBox="0 0 12 12"><path d="M5.6 1V10.5Q5.6 11.2 4.8 11.2H3M3.1 3.4L0.4 8.3M8.5 3.4L11.5 8.5"/></svg><svg class="g" viewBox="0 0 12 12"><path d="M0.1 4.2H11.9M6 0.9V4.2C6 7.4 4 9.9 0.5 11.3M6.2 5C7 8.1 8.8 10.2 11.7 11.3"/></svg></div>
<div class="c ft" style="left:1000px;top:633px;width:49px;"><svg class="g" viewBox="0 0 12 12"><path d="M5.6 1V10.5Q5.6 11.2 4.8 11.2H3M3.1 3.4L0.4 8.3M8.5 3.4L11.5 8.5"/></svg><svg class="g" viewBox="0 0 12 12"><path d="M0.1 4.2H11.9M6 0.9V4.2C6 7.4 4 9.9 0.5 11.3M6.2 5C7 8.1 8.8 10.2 11.7 11.3"/></svg><svg class="g" viewBox="0 0 12 12"><path d="M0.1 4.2H11.9M6 0.9V4.2C6 7.4 4 9.9 0.5 11.3M6.2 5C7 8.1 8.8 10.2 11.7 11.3"/></svg></div>
<div class="c ft" style="left:1050px;top:633px;width:49px;"><svg class="g" viewBox="0 0 12 12"><path d="M0.1 4.2H11.9M6 0.9V4.2C6 7.4 4 9.9 0.5 11.3M6.2 5C7 8.1 8.8 10.2 11.7 11.3"/></svg><svg class="g" viewBox="0 0 12 12"><path d="M5.6 1V10.5Q5.6 11.2 4.8 11.2H3M3.1 3.4L0.4 8.3M8.5 3.4L11.5 8.5"/></svg><svg class="g" viewBox="0 0 12 12"><path d="M5.6 1V10.5Q5.6 11.2 4.8 11.2H3M3.1 3.4L0.4 8.3M8.5 3.4L11.5 8.5"/></svg></div>
<div class="c ft" style="left:1100px;top:633px;width:49px;"><svg class="g" viewBox="0 0 12 12"><path d="M5.6 1V10.5Q5.6 11.2 4.8 11.2H3M3.1 3.4L0.4 8.3M8.5 3.4L11.5 8.5"/></svg><svg class="g" viewBox="0 0 12 12"><path d="M0.1 4.2H11.9M6 0.9V4.2C6 7.4 4 9.9 0.5 11.3M6.2 5C7 8.1 8.8 10.2 11.7 11.3"/></svg><svg class="g" viewBox="0 0 12 12"><path d="M5.6 1V10.5Q5.6 11.2 4.8 11.2H3M3.1 3.4L0.4 8.3M8.5 3.4L11.5 8.5"/></svg></div>
<div class="c ft" style="left:1150px;top:633px;width:49px;"><svg class="g" viewBox="0 0 12 12"><path d="M5.6 1V10.5Q5.6 11.2 4.8 11.2H3M3.1 3.4L0.4 8.3M8.5 3.4L11.5 8.5"/></svg><svg class="g" viewBox="0 0 12 12"><path d="M5.6 1V10.5Q5.6 11.2 4.8 11.2H3M3.1 3.4L0.4 8.3M8.5 3.4L11.5 8.5"/></svg><svg class="g" viewBox="0 0 12 12"><path d="M0.1 4.2H11.9M6 0.9V4.2C6 7.4 4 9.9 0.5 11.3M6.2 5C7 8.1 8.8 10.2 11.7 11.3"/></svg></div>
<div class="a" style="left:500px;top:370px;width:49px;height:1px;background:#aaa3fa"></div>
<div class="a" style="left:750px;top:370px;width:49px;height:1px;background:#aaa3fa"></div>
<div class="a" style="left:451px;top:501px;width:48px;height:1px;background:#aaa3fa"></div>
<div class="a" style="left:800px;top:501px;width:49px;height:1px;background:#aaa3fa"></div>
<div class="rb" style="left:64px;top:50px;width:45px;height:84px;border-width:6px"></div>
<div class="rb" style="left:100px;top:159px;width:59px;height:76px;border-width:6px"></div>
<div class="rb" style="left:56px;top:368px;width:53px;height:82px;border-width:5px"></div>
<div class="rb" style="left:112px;top:425px;width:37px;height:78px;border-width:5px"></div>
<div class="rb" style="left:62px;top:502px;width:45px;height:88px;border-width:6px"></div>
<div class="rb" style="left:104px;top:552px;width:49px;height:81px;border-width:5px"></div>
</body></html>
